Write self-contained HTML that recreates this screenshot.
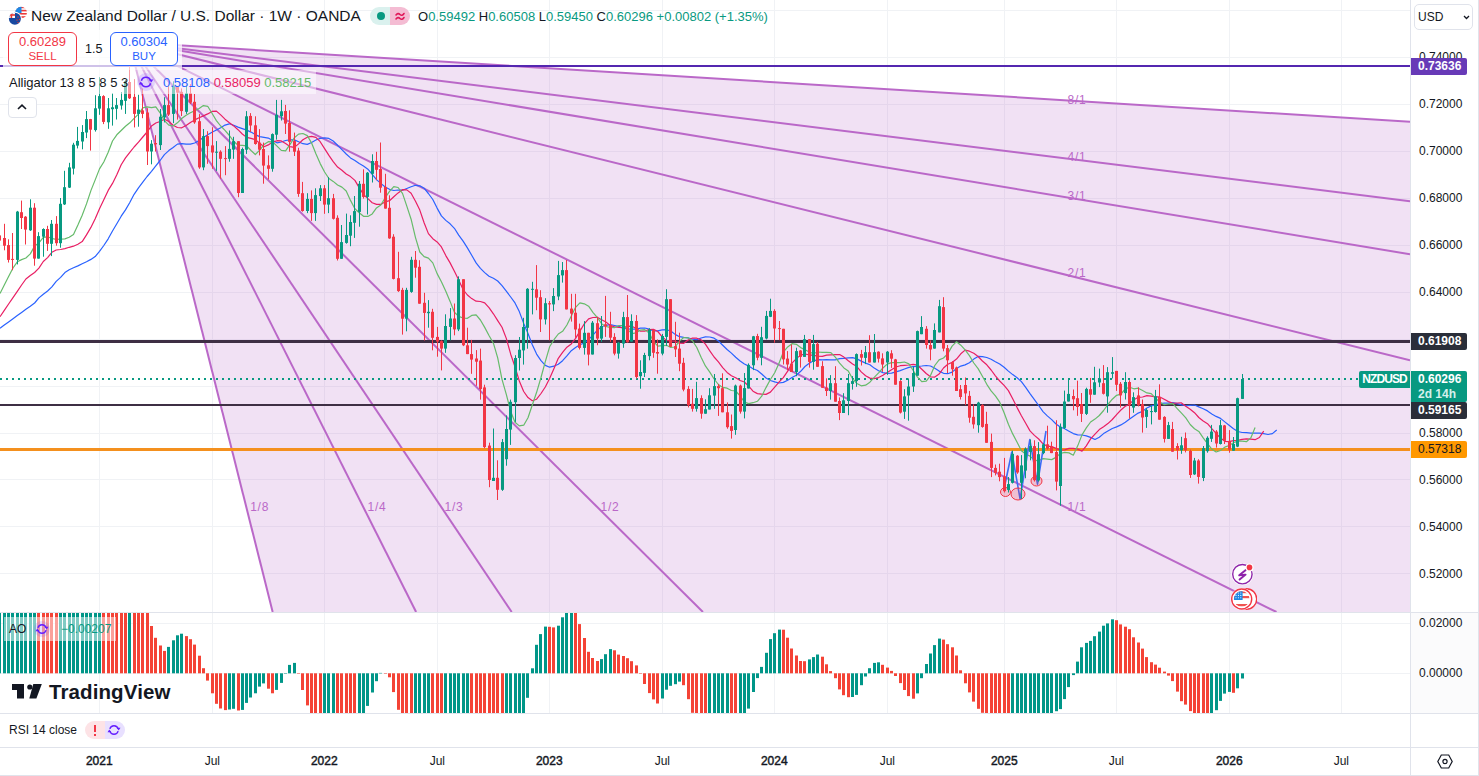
<!DOCTYPE html>
<html><head><meta charset="utf-8">
<style>
*{box-sizing:border-box;margin:0;padding:0}
html,body{width:1479px;height:776px;overflow:hidden;background:#fff;font-family:"Liberation Sans",sans-serif;color:#131722}
#root{position:relative;width:1479px;height:776px;overflow:hidden;background:#fff}
.abs{position:absolute}
.pl{position:absolute;left:1419px;font-size:12px;color:#131722;line-height:14px;height:14px;white-space:nowrap}
.tag{position:absolute;left:1411px;width:56px;height:17px;font-size:12px;font-weight:bold;color:#fff;line-height:17px;padding-left:7px;border-radius:0 2px 2px 0;white-space:nowrap}
.tl{position:absolute;top:754px;font-size:12px;line-height:14px;color:#131722;white-space:nowrap;width:60px;text-align:center}
.tl.b{font-weight:normal;-webkit-text-stroke:0.45px #131722}
.ovl{position:absolute;background:rgba(255,255,255,0.5)}
</style></head><body><div id="root">
<svg width="1410" height="612" viewBox="0 0 1410 612" style="position:absolute;left:0;top:0">
<rect width="100%" height="100%" fill="#fff"/>
<line x1="0" x2="1410" y1="10.5" y2="10.5" stroke="#f0f2f5" stroke-width="1"/>
<line x1="0" x2="1410" y1="57.5" y2="57.5" stroke="#f0f2f5" stroke-width="1"/>
<line x1="0" x2="1410" y1="104.5" y2="104.5" stroke="#f0f2f5" stroke-width="1"/>
<line x1="0" x2="1410" y1="151.5" y2="151.5" stroke="#f0f2f5" stroke-width="1"/>
<line x1="0" x2="1410" y1="198.5" y2="198.5" stroke="#f0f2f5" stroke-width="1"/>
<line x1="0" x2="1410" y1="245.5" y2="245.5" stroke="#f0f2f5" stroke-width="1"/>
<line x1="0" x2="1410" y1="292.5" y2="292.5" stroke="#f0f2f5" stroke-width="1"/>
<line x1="0" x2="1410" y1="339.5" y2="339.5" stroke="#f0f2f5" stroke-width="1"/>
<line x1="0" x2="1410" y1="386.5" y2="386.5" stroke="#f0f2f5" stroke-width="1"/>
<line x1="0" x2="1410" y1="433.5" y2="433.5" stroke="#f0f2f5" stroke-width="1"/>
<line x1="0" x2="1410" y1="479.5" y2="479.5" stroke="#f0f2f5" stroke-width="1"/>
<line x1="0" x2="1410" y1="526.5" y2="526.5" stroke="#f0f2f5" stroke-width="1"/>
<line x1="0" x2="1410" y1="573.5" y2="573.5" stroke="#f0f2f5" stroke-width="1"/>
<line y1="0" y2="612" x1="99.5" x2="99.5" stroke="#f0f2f5" stroke-width="1"/>
<line y1="0" y2="612" x1="212.5" x2="212.5" stroke="#f0f2f5" stroke-width="1"/>
<line y1="0" y2="612" x1="324.5" x2="324.5" stroke="#f0f2f5" stroke-width="1"/>
<line y1="0" y2="612" x1="437.5" x2="437.5" stroke="#f0f2f5" stroke-width="1"/>
<line y1="0" y2="612" x1="549.5" x2="549.5" stroke="#f0f2f5" stroke-width="1"/>
<line y1="0" y2="612" x1="662.5" x2="662.5" stroke="#f0f2f5" stroke-width="1"/>
<line y1="0" y2="612" x1="774.5" x2="774.5" stroke="#f0f2f5" stroke-width="1"/>
<line y1="0" y2="612" x1="887.5" x2="887.5" stroke="#f0f2f5" stroke-width="1"/>
<line y1="0" y2="612" x1="1004.5" x2="1004.5" stroke="#f0f2f5" stroke-width="1"/>
<line y1="0" y2="612" x1="1116.5" x2="1116.5" stroke="#f0f2f5" stroke-width="1"/>
<line y1="0" y2="612" x1="1229.5" x2="1229.5" stroke="#f0f2f5" stroke-width="1"/>
<line y1="0" y2="612" x1="1341.5" x2="1341.5" stroke="#f0f2f5" stroke-width="1"/>
<polygon points="129.35,42.2 1410,121.712356875 1410,612 272.7464163478961,612" fill="rgba(186,104,200,0.2)"/>
<line x1="129.35" y1="42.2" x2="1410.0" y2="121.7" stroke="#ba68c8" stroke-width="2"/>
<line x1="129.35" y1="42.2" x2="1410.0" y2="201.2" stroke="#ba68c8" stroke-width="2"/>
<line x1="129.35" y1="42.2" x2="1410.0" y2="254.2" stroke="#ba68c8" stroke-width="2"/>
<line x1="129.35" y1="42.2" x2="1410.0" y2="360.2" stroke="#ba68c8" stroke-width="2"/>
<line x1="129.35" y1="42.2" x2="1276.5" y2="612.0" stroke="#ba68c8" stroke-width="2"/>
<line x1="129.35" y1="42.2" x2="702.9" y2="612.0" stroke="#ba68c8" stroke-width="2"/>
<line x1="129.35" y1="42.2" x2="511.7" y2="612.0" stroke="#ba68c8" stroke-width="2"/>
<line x1="129.35" y1="42.2" x2="416.1" y2="612.0" stroke="#ba68c8" stroke-width="2"/>
<line x1="129.35" y1="42.2" x2="272.7" y2="612.0" stroke="#ba68c8" stroke-width="2"/>
<text x="1077" y="103.5" fill="#ba68c8" font-size="12" letter-spacing="0.8" text-anchor="middle" font-family="Liberation Sans">8/1</text>
<text x="1077" y="160.5" fill="#ba68c8" font-size="12" letter-spacing="0.8" text-anchor="middle" font-family="Liberation Sans">4/1</text>
<text x="1077" y="199.5" fill="#ba68c8" font-size="12" letter-spacing="0.8" text-anchor="middle" font-family="Liberation Sans">3/1</text>
<text x="1077" y="276.5" fill="#ba68c8" font-size="12" letter-spacing="0.8" text-anchor="middle" font-family="Liberation Sans">2/1</text>
<text x="1077" y="510.5" fill="#ba68c8" font-size="12" letter-spacing="0.8" text-anchor="middle" font-family="Liberation Sans">1/1</text>
<text x="610" y="510.5" fill="#ba68c8" font-size="12" letter-spacing="0.8" text-anchor="middle" font-family="Liberation Sans">1/2</text>
<text x="454" y="510.5" fill="#ba68c8" font-size="12" letter-spacing="0.8" text-anchor="middle" font-family="Liberation Sans">1/3</text>
<text x="377" y="510.5" fill="#ba68c8" font-size="12" letter-spacing="0.8" text-anchor="middle" font-family="Liberation Sans">1/4</text>
<text x="259.7" y="510.5" fill="#ba68c8" font-size="12" letter-spacing="0.8" text-anchor="middle" font-family="Liberation Sans">1/8</text>
<line x1="0" x2="1410" y1="66" y2="66" stroke="#5427b0" stroke-width="2"/>
<rect x="0" width="1410" y="340" height="3" fill="#3e2f44"/>
<rect x="0" width="1410" y="404" height="2" fill="#3e2f44"/>
<rect x="0" width="1410" y="448" height="3" fill="#f4901e"/>
<line x1="0" x2="1360" y1="379" y2="379" stroke="#089981" stroke-width="2" stroke-dasharray="2 4"/>
<polyline points="-0.0,328.3 4.3,325.1 8.6,322.0 13.0,318.8 17.3,315.6 21.6,312.5 25.9,309.3 30.3,306.2 34.6,303.0 38.9,297.9 43.3,294.3 47.6,291.0 51.9,286.9 56.2,281.4 60.6,277.4 64.9,272.6 69.2,269.7 73.5,267.8 77.9,265.9 82.2,263.8 86.5,261.8 90.9,259.4 95.2,256.6 99.5,251.3 103.8,245.5 108.2,238.8 112.5,231.0 116.8,223.8 121.2,216.2 125.5,209.9 129.8,202.5 134.1,194.3 138.5,187.8 142.8,182.1 147.1,176.5 151.5,171.3 155.8,165.8 160.1,160.5 164.4,154.6 168.8,150.6 173.1,147.5 177.4,144.1 181.7,143.6 186.1,144.2 190.4,144.2 194.7,143.0 199.1,140.5 203.4,137.4 207.7,134.7 212.0,132.3 216.4,130.0 220.7,127.7 225.0,125.1 229.4,123.8 233.7,125.2 238.0,127.1 242.3,128.6 246.7,130.1 251.0,132.1 255.3,134.6 259.7,136.6 264.0,137.3 268.3,138.1 272.6,140.5 277.0,142.8 281.3,142.0 285.6,140.5 289.9,139.8 294.3,139.9 298.6,141.7 302.9,143.7 307.3,144.4 311.6,142.5 315.9,140.0 320.2,138.4 324.6,137.9 328.9,138.4 333.2,141.0 337.6,145.3 341.9,149.7 346.2,154.0 350.5,157.9 354.9,160.6 359.2,163.6 363.5,166.0 367.9,169.2 372.2,174.4 376.5,179.6 380.8,183.4 385.2,187.0 389.5,189.3 393.8,190.5 398.1,190.0 402.5,190.2 406.8,188.5 411.1,186.8 415.5,185.3 419.8,185.8 424.1,188.2 428.4,193.5 432.8,199.5 437.1,208.1 441.4,215.9 445.8,220.4 450.1,223.8 454.4,228.3 458.7,235.1 463.1,241.1 467.4,247.9 471.7,255.2 476.1,262.9 480.4,268.3 484.7,272.6 489.0,276.2 493.4,278.3 497.7,281.0 502.0,285.6 506.3,291.1 510.7,297.0 515.0,302.9 519.3,311.6 523.7,323.4 528.0,333.5 532.3,344.8 536.6,354.1 541.0,360.7 545.3,365.4 549.6,367.2 554.0,366.2 558.3,364.3 562.6,360.7 566.9,355.9 571.3,350.7 575.6,347.6 579.9,344.8 584.3,343.0 588.6,339.6 592.9,335.1 597.2,330.3 601.6,326.8 605.9,325.3 610.2,324.6 614.5,325.5 618.9,326.4 623.2,328.2 627.5,328.9 631.9,329.1 636.2,329.1 640.5,328.1 644.8,328.0 649.2,329.2 653.5,330.9 657.8,330.8 662.2,329.9 666.5,329.7 670.8,331.0 675.1,334.4 679.5,336.7 683.8,337.3 688.1,337.8 692.5,339.2 696.8,339.6 701.1,338.0 705.4,336.8 709.8,337.0 714.1,338.2 718.4,341.0 722.7,345.2 727.1,349.5 731.4,353.1 735.7,357.3 740.1,361.0 744.4,364.0 748.7,366.1 753.0,368.7 757.4,370.5 761.7,374.0 766.0,378.0 770.4,380.5 774.7,381.9 779.0,383.0 783.3,382.4 787.7,380.2 792.0,377.6 796.3,375.2 800.7,371.3 805.0,366.5 809.3,363.3 813.6,360.8 818.0,359.7 822.3,359.8 826.6,359.7 830.9,359.9 835.3,359.8 839.6,358.7 843.9,358.3 848.3,357.8 852.6,357.6 856.9,358.9 861.2,361.1 865.6,363.1 869.9,364.7 874.2,368.1 878.6,370.8 882.9,372.6 887.2,373.4 891.5,373.1 895.9,371.9 900.2,370.6 904.5,369.0 908.9,367.4 913.2,366.6 917.5,366.3 921.8,366.0 926.2,365.5 930.5,366.0 934.8,368.3 939.1,371.1 943.5,373.3 947.8,373.7 952.1,372.1 956.5,368.5 960.8,366.1 965.1,364.9 969.4,362.7 973.8,359.1 978.1,356.4 982.4,356.6 986.8,357.5 991.1,359.2 995.4,361.7 999.7,364.0 1004.1,367.3 1008.4,371.1 1012.7,374.6 1017.1,377.8 1021.4,381.6 1025.7,387.3 1030.0,393.6 1034.4,399.7 1038.7,405.5 1043.0,411.6 1047.3,415.9 1051.7,419.6 1056.0,424.0 1060.3,427.0 1064.7,428.8 1069.0,431.2 1073.3,433.6 1077.6,434.8 1082.0,435.0 1086.3,435.9 1090.6,437.4 1095.0,439.5 1099.3,437.2 1103.6,433.6 1107.9,431.0 1112.3,428.5 1116.6,426.9 1120.9,424.9 1125.3,422.3 1129.6,419.1 1133.9,415.9 1138.2,413.1 1142.6,411.3 1146.9,408.0 1151.2,405.9 1155.5,405.0 1159.9,403.6 1164.2,403.2 1168.5,403.2 1172.9,402.7 1177.2,403.7 1181.5,404.8 1185.8,405.6 1190.2,405.3 1194.5,405.0 1198.8,406.9 1203.2,408.7 1207.5,410.9 1211.8,414.0 1216.1,416.4 1220.5,418.4 1224.8,421.9 1229.1,425.3 1233.5,428.8 1237.8,431.5 1242.1,432.5 1246.4,432.6 1250.8,433.1 1255.1,433.0 1259.4,433.1 1263.7,433.7 1268.1,434.5 1272.4,433.6 1276.7,430.0" fill="none" stroke="#2962ff" stroke-width="1.2" stroke-linejoin="round"/>
<polyline points="-0.0,316.7 4.3,310.4 8.6,304.0 13.0,297.7 17.3,291.3 21.6,285.0 25.9,279.0 30.3,275.5 34.6,272.5 38.9,268.1 43.3,261.5 47.6,257.6 51.9,252.3 56.2,250.0 60.6,249.5 64.9,248.6 69.2,247.3 73.5,246.2 77.9,244.2 82.2,241.6 86.5,234.9 90.9,227.4 95.2,218.8 99.5,208.7 103.8,199.8 108.2,190.4 112.5,183.4 116.8,174.7 121.2,164.8 125.5,157.9 129.8,152.4 134.1,147.0 138.5,142.2 142.8,137.0 147.1,132.0 151.5,125.9 155.8,123.0 160.1,121.5 164.4,119.2 168.8,121.4 173.1,125.2 177.4,127.5 181.7,127.8 186.1,125.5 190.4,122.5 194.7,119.9 199.1,117.8 203.4,115.9 207.7,113.9 212.0,111.4 216.4,111.1 220.7,114.9 225.0,119.2 229.4,122.8 233.7,125.9 238.0,129.7 242.3,134.0 246.7,137.4 251.0,138.4 255.3,139.6 259.7,143.3 264.0,146.7 268.3,144.9 272.6,142.1 277.0,140.7 281.3,140.9 285.6,143.6 289.9,146.6 294.3,147.4 298.6,143.9 302.9,139.7 307.3,137.2 311.6,136.4 315.9,137.4 320.2,141.7 324.6,148.6 328.9,155.4 333.2,161.7 337.6,167.1 341.9,170.3 346.2,174.0 350.5,176.6 354.9,180.4 359.2,187.6 363.5,194.4 367.9,198.6 372.2,202.7 376.5,204.4 380.8,204.4 385.2,201.8 389.5,200.7 393.8,196.7 398.1,192.9 402.5,189.7 406.8,189.9 411.1,193.3 415.5,201.2 419.8,210.1 424.1,222.7 428.4,233.6 432.8,238.7 437.1,241.9 441.4,246.9 445.8,255.6 450.1,262.9 454.4,271.2 458.7,280.1 463.1,289.5 467.4,295.0 471.7,298.6 476.1,301.2 480.4,301.5 484.7,302.9 489.0,307.7 493.4,313.8 497.7,320.6 502.0,327.3 506.3,338.4 510.7,354.2 515.0,366.8 519.3,381.0 523.7,391.5 528.0,397.6 532.3,400.7 536.6,399.2 541.0,393.5 545.3,387.0 549.6,378.4 554.0,368.4 558.3,358.3 562.6,352.4 566.9,347.2 571.3,343.9 575.6,338.4 579.9,331.1 584.3,323.8 588.6,318.9 592.9,317.5 597.2,317.3 601.6,319.7 605.9,322.0 610.2,325.4 614.5,326.9 618.9,327.4 623.2,327.6 627.5,326.2 631.9,326.3 636.2,328.5 640.5,331.2 644.8,331.1 649.2,329.5 653.5,329.3 657.8,331.5 662.2,336.9 666.5,340.4 670.8,340.9 675.1,341.2 679.5,343.1 683.8,343.3 688.1,340.1 692.5,338.0 696.8,338.2 701.1,339.9 705.4,344.2 709.8,350.8 714.1,357.0 718.4,361.9 722.7,367.6 727.1,372.4 731.4,375.7 735.7,377.7 740.1,380.5 744.4,382.0 748.7,386.2 753.0,391.2 757.4,393.6 761.7,394.2 766.0,394.4 770.4,392.1 774.7,387.2 779.0,382.2 783.3,377.7 787.7,371.1 792.0,363.2 796.3,358.6 800.7,355.1 805.0,354.0 809.3,354.8 813.6,355.3 818.0,356.1 822.3,356.4 826.6,355.1 830.9,354.9 835.3,354.6 839.6,354.6 843.9,357.1 848.3,360.8 852.6,364.1 856.9,366.6 861.2,371.9 865.6,375.8 869.9,378.1 874.2,378.7 878.6,377.6 882.9,375.2 887.2,372.6 891.5,369.7 895.9,367.0 900.2,365.7 904.5,365.3 908.9,365.0 913.2,364.3 917.5,365.2 921.8,369.2 926.2,373.5 930.5,376.8 934.8,377.1 939.1,374.1 943.5,368.0 947.8,364.2 952.1,362.4 956.5,359.1 960.8,353.8 965.1,350.1 969.4,351.2 973.8,353.3 978.1,356.5 982.4,361.0 986.8,364.8 991.1,370.0 995.4,375.8 999.7,381.0 1004.1,385.4 1008.4,390.6 1012.7,398.7 1017.1,407.6 1021.4,415.7 1025.7,423.2 1030.0,430.9 1034.4,435.4 1038.7,439.0 1043.0,443.8 1047.3,446.2 1051.7,446.6 1056.0,448.4 1060.3,450.1 1064.7,449.9 1069.0,448.4 1073.3,448.3 1077.6,449.1 1082.0,451.1 1086.3,445.9 1090.6,438.9 1095.0,434.1 1099.3,429.6 1103.6,426.8 1107.9,423.6 1112.3,419.5 1116.6,414.6 1120.9,410.0 1125.3,406.3 1129.6,404.2 1133.9,399.7 1138.2,397.3 1142.6,397.0 1146.9,395.6 1151.2,396.1 1155.5,396.9 1159.9,396.9 1164.2,399.3 1168.5,401.6 1172.9,403.3 1177.2,403.0 1181.5,402.9 1185.8,406.2 1190.2,409.2 1194.5,412.7 1198.8,417.5 1203.2,421.0 1207.5,423.7 1211.8,428.7 1216.1,433.4 1220.5,438.1 1224.8,441.3 1229.1,441.7 1233.5,440.7 1237.8,440.4 1242.1,439.4 1246.4,438.8 1250.8,439.1 1255.1,439.7 1259.4,437.5 1263.7,431.2" fill="none" stroke="#e91e63" stroke-width="1.2" stroke-linejoin="round"/>
<polyline points="-0.0,293.5 4.3,285.0 8.6,276.5 13.0,268.0 17.3,261.8 21.6,259.6 25.9,258.0 30.3,253.9 34.6,246.1 38.9,243.0 43.3,237.4 47.6,236.8 51.9,238.5 56.2,239.3 60.6,239.1 64.9,238.9 69.2,237.3 73.5,234.4 77.9,225.1 82.2,215.2 86.5,203.9 90.9,190.6 95.2,179.9 99.5,168.9 103.8,162.0 108.2,152.3 112.5,141.0 116.8,134.8 121.2,130.5 125.5,126.3 129.8,122.8 134.1,118.4 138.5,114.1 142.8,107.8 147.1,106.9 151.5,107.7 155.8,106.8 160.1,112.8 164.4,120.6 168.8,125.2 173.1,126.0 177.4,122.8 181.7,118.5 186.1,115.2 190.4,112.8 194.7,110.7 199.1,108.5 203.4,105.6 207.7,106.3 212.0,113.3 216.4,120.6 220.7,126.0 225.0,130.4 229.4,135.5 233.7,141.3 238.0,145.2 242.3,145.4 246.7,145.8 251.0,150.5 255.3,154.5 259.7,150.1 264.0,144.6 268.3,141.7 272.6,141.8 277.0,146.1 281.3,150.4 285.6,150.8 289.9,144.6 294.3,137.7 298.6,134.1 302.9,133.5 307.3,135.6 311.6,143.0 315.9,153.7 320.2,163.6 324.6,172.0 328.9,178.5 333.2,181.4 337.6,185.0 341.9,187.1 346.2,191.0 350.5,200.4 354.9,208.7 359.2,212.7 363.5,216.3 367.9,216.4 372.2,213.9 376.5,207.9 380.8,205.0 385.2,197.7 389.5,191.3 393.8,186.6 398.1,187.5 402.5,193.4 406.8,206.1 411.1,219.2 415.5,237.6 419.8,252.0 424.1,256.6 428.4,258.1 432.8,262.9 437.1,273.6 441.4,281.7 445.8,291.3 450.1,301.4 454.4,312.2 458.7,316.4 463.1,318.0 467.4,318.3 471.7,315.4 476.1,314.8 480.4,320.0 484.7,327.4 489.0,335.5 493.4,343.2 497.7,357.9 502.0,379.3 506.3,394.4 510.7,411.5 515.0,422.2 519.3,425.9 523.7,425.2 528.0,417.8 532.3,405.0 536.6,392.3 541.0,377.5 545.3,361.6 549.6,346.8 554.0,339.7 558.3,334.0 562.6,331.3 566.9,325.0 571.3,316.1 575.6,307.3 579.9,302.8 584.3,303.8 588.6,306.2 592.9,312.3 597.2,317.4 601.6,323.7 605.9,326.5 610.2,327.4 614.5,327.7 618.9,325.5 623.2,325.7 627.5,329.4 631.9,333.6 636.2,332.8 640.5,330.0 644.8,329.6 649.2,333.1 653.5,341.4 657.8,346.1 662.2,345.7 666.5,345.3 670.8,347.5 675.1,347.0 679.5,341.1 683.8,337.5 688.1,337.9 692.5,340.7 696.8,347.5 701.1,357.3 705.4,365.9 709.8,372.1 714.1,379.0 718.4,384.5 722.7,387.4 727.1,388.2 731.4,390.5 735.7,391.0 740.1,395.9 744.4,402.0 748.7,403.6 753.0,402.7 757.4,401.3 761.7,396.2 766.0,387.6 770.4,379.5 774.7,372.8 779.0,363.3 783.3,352.2 787.7,346.9 792.0,343.7 796.3,344.3 800.7,347.6 805.0,349.7 809.3,352.1 813.6,353.5 818.0,352.0 822.3,352.3 826.6,352.3 830.9,352.7 835.3,357.1 839.6,363.1 843.9,367.9 848.3,371.1 852.6,378.7 856.9,383.5 861.2,385.8 865.6,385.2 869.9,382.2 874.2,377.3 878.6,372.8 882.9,368.0 887.2,364.1 891.5,362.6 895.9,362.6 900.2,362.7 904.5,362.0 908.9,363.9 913.2,370.5 917.5,377.2 921.8,381.7 926.2,381.2 930.5,375.6 934.8,365.5 939.1,359.9 943.5,358.0 947.8,353.6 952.1,346.1 956.5,341.7 960.8,345.2 965.1,349.8 969.4,355.6 973.8,363.0 978.1,368.6 982.4,376.3 986.8,384.3 991.1,390.9 995.4,395.9 999.7,402.2 1004.1,412.8 1008.4,424.2 1012.7,433.9 1017.1,442.2 1021.4,450.7 1025.7,454.0 1030.0,456.1 1034.4,460.2 1038.7,460.8 1043.0,458.6 1047.3,459.1 1051.7,459.6 1056.0,457.4 1060.3,453.5 1064.7,452.3 1069.0,452.9 1073.3,455.2 1077.6,446.1 1082.0,434.9 1086.3,427.9 1090.6,422.0 1095.0,419.1 1099.3,415.5 1103.6,410.5 1107.9,404.5 1112.3,399.2 1116.6,395.3 1120.9,394.2 1125.3,388.9 1129.6,387.3 1133.9,388.8 1138.2,388.2 1142.6,390.5 1146.9,392.9 1151.2,393.7 1155.5,398.2 1159.9,402.1 1164.2,404.7 1168.5,404.0 1172.9,403.6 1177.2,408.7 1181.5,413.1 1185.8,417.8 1190.2,424.5 1194.5,428.7 1198.8,431.4 1203.2,437.9 1207.5,443.6 1211.8,449.2 1216.1,452.0 1220.5,450.5 1224.8,447.1 1229.1,445.5 1233.5,442.8 1237.8,441.1 1242.1,441.2 1246.4,441.7 1250.8,437.9 1255.1,427.6" fill="none" stroke="#66bb6a" stroke-width="1.2" stroke-linejoin="round"/>
<polyline points="1003.8,490 1011.8,452 1020.1,498.9 1029.8,439.6 1037.5,484.1 1046,431" fill="none" stroke="#3d6cf5" stroke-width="1.6" stroke-linejoin="round"/>
<ellipse cx="1005.5" cy="492" rx="5" ry="4.5" fill="rgba(242,54,69,0.2)" stroke="#f23645" stroke-width="1"/>
<ellipse cx="1018" cy="494" rx="7" ry="6" fill="rgba(242,54,69,0.2)" stroke="#f23645" stroke-width="1"/>
<ellipse cx="1036.5" cy="481" rx="5.5" ry="5" fill="rgba(242,54,69,0.2)" stroke="#f23645" stroke-width="1"/>
<rect x="-1" y="218.7" width="1" height="22.3" fill="#f23645"/>
<rect x="-2" y="235.4" width="3" height="5.2" fill="#f23645"/>
<rect x="4" y="223.8" width="1" height="26.5" fill="#f23645"/>
<rect x="3" y="238.0" width="3" height="7.7" fill="#f23645"/>
<rect x="8" y="239.3" width="1" height="23.2" fill="#f23645"/>
<rect x="7" y="245.1" width="3" height="14.8" fill="#f23645"/>
<rect x="12" y="233.0" width="1" height="37.2" fill="#f23645"/>
<rect x="11" y="258.9" width="3" height="1.0" fill="#f23645"/>
<rect x="17" y="210.9" width="1" height="53.5" fill="#089981"/>
<rect x="16" y="211.6" width="3" height="48.3" fill="#089981"/>
<rect x="21" y="200.6" width="1" height="28.4" fill="#f23645"/>
<rect x="20" y="212.2" width="3" height="5.8" fill="#f23645"/>
<rect x="25" y="216.1" width="1" height="28.4" fill="#f23645"/>
<rect x="24" y="216.7" width="3" height="12.9" fill="#f23645"/>
<rect x="30" y="199.3" width="1" height="31.6" fill="#089981"/>
<rect x="29" y="207.7" width="3" height="22.6" fill="#089981"/>
<rect x="34" y="203.2" width="1" height="62.5" fill="#f23645"/>
<rect x="33" y="207.7" width="3" height="50.9" fill="#f23645"/>
<rect x="38" y="232.2" width="1" height="26.4" fill="#089981"/>
<rect x="37" y="236.1" width="3" height="22.5" fill="#089981"/>
<rect x="43" y="228.3" width="1" height="28.4" fill="#089981"/>
<rect x="42" y="229.0" width="3" height="7.7" fill="#089981"/>
<rect x="47" y="225.8" width="1" height="25.1" fill="#f23645"/>
<rect x="46" y="229.0" width="3" height="14.8" fill="#f23645"/>
<rect x="51" y="220.0" width="1" height="36.1" fill="#089981"/>
<rect x="50" y="223.8" width="3" height="20.0" fill="#089981"/>
<rect x="56" y="216.1" width="1" height="29.6" fill="#f23645"/>
<rect x="55" y="223.8" width="3" height="19.4" fill="#f23645"/>
<rect x="60" y="198.0" width="1" height="49.7" fill="#089981"/>
<rect x="59" y="203.8" width="3" height="39.4" fill="#089981"/>
<rect x="64" y="170.8" width="1" height="34.2" fill="#089981"/>
<rect x="63" y="187.2" width="3" height="17.2" fill="#089981"/>
<rect x="69" y="162.8" width="1" height="25.2" fill="#089981"/>
<rect x="68" y="167.4" width="3" height="20.2" fill="#089981"/>
<rect x="73" y="142.8" width="1" height="31.7" fill="#089981"/>
<rect x="72" y="144.7" width="3" height="23.9" fill="#089981"/>
<rect x="77" y="126.9" width="1" height="21.5" fill="#089981"/>
<rect x="76" y="140.9" width="3" height="4.7" fill="#089981"/>
<rect x="82" y="125.1" width="1" height="24.2" fill="#089981"/>
<rect x="81" y="132.0" width="3" height="9.5" fill="#089981"/>
<rect x="86" y="111.0" width="1" height="27.1" fill="#089981"/>
<rect x="85" y="119.1" width="3" height="13.4" fill="#089981"/>
<rect x="90" y="118.9" width="1" height="31.7" fill="#f23645"/>
<rect x="89" y="119.1" width="3" height="10.6" fill="#f23645"/>
<rect x="95" y="95.2" width="1" height="36.4" fill="#089981"/>
<rect x="94" y="108.3" width="3" height="21.8" fill="#089981"/>
<rect x="99" y="77.1" width="1" height="37.7" fill="#089981"/>
<rect x="98" y="96.1" width="3" height="12.5" fill="#089981"/>
<rect x="103" y="95.2" width="1" height="28.9" fill="#f23645"/>
<rect x="102" y="96.1" width="3" height="25.8" fill="#f23645"/>
<rect x="108" y="98.0" width="1" height="30.8" fill="#089981"/>
<rect x="107" y="108.3" width="3" height="14.0" fill="#089981"/>
<rect x="112" y="93.3" width="1" height="32.3" fill="#089981"/>
<rect x="111" y="107.3" width="3" height="1.9" fill="#089981"/>
<rect x="116" y="98.0" width="1" height="21.5" fill="#089981"/>
<rect x="115" y="105.1" width="3" height="3.7" fill="#089981"/>
<rect x="121" y="92.0" width="1" height="17.6" fill="#089981"/>
<rect x="120" y="99.9" width="3" height="5.6" fill="#089981"/>
<rect x="125" y="80.0" width="1" height="33.9" fill="#089981"/>
<rect x="124" y="81.2" width="3" height="19.6" fill="#089981"/>
<rect x="129" y="66.4" width="1" height="32.6" fill="#f23645"/>
<rect x="128" y="82.0" width="3" height="16.3" fill="#f23645"/>
<rect x="134" y="79.1" width="1" height="48.3" fill="#f23645"/>
<rect x="133" y="96.9" width="3" height="17.0" fill="#f23645"/>
<rect x="138" y="94.8" width="1" height="31.9" fill="#089981"/>
<rect x="137" y="109.6" width="3" height="4.3" fill="#089981"/>
<rect x="142" y="88.4" width="1" height="29.8" fill="#f23645"/>
<rect x="141" y="110.4" width="3" height="3.5" fill="#f23645"/>
<rect x="147" y="108.2" width="1" height="56.8" fill="#f23645"/>
<rect x="146" y="112.5" width="3" height="39.0" fill="#f23645"/>
<rect x="151" y="140.1" width="1" height="24.2" fill="#089981"/>
<rect x="150" y="143.7" width="3" height="7.8" fill="#089981"/>
<rect x="155" y="135.2" width="1" height="16.3" fill="#f23645"/>
<rect x="154" y="143.0" width="3" height="1.4" fill="#f23645"/>
<rect x="160" y="109.0" width="1" height="41.0" fill="#089981"/>
<rect x="159" y="116.7" width="3" height="28.4" fill="#089981"/>
<rect x="164" y="97.2" width="1" height="25.2" fill="#089981"/>
<rect x="163" y="105.1" width="3" height="12.3" fill="#089981"/>
<rect x="168" y="86.2" width="1" height="29.8" fill="#f23645"/>
<rect x="167" y="105.1" width="3" height="9.5" fill="#f23645"/>
<rect x="173" y="81.3" width="1" height="41.8" fill="#089981"/>
<rect x="172" y="86.2" width="3" height="27.7" fill="#089981"/>
<rect x="177" y="87.0" width="1" height="32.6" fill="#f23645"/>
<rect x="176" y="87.0" width="3" height="5.6" fill="#f23645"/>
<rect x="181" y="88.4" width="1" height="27.6" fill="#f23645"/>
<rect x="180" y="91.9" width="3" height="19.2" fill="#f23645"/>
<rect x="186" y="85.5" width="1" height="28.4" fill="#089981"/>
<rect x="185" y="93.3" width="3" height="18.5" fill="#089981"/>
<rect x="190" y="84.1" width="1" height="19.9" fill="#f23645"/>
<rect x="189" y="93.3" width="3" height="9.3" fill="#f23645"/>
<rect x="194" y="94.0" width="1" height="29.8" fill="#f23645"/>
<rect x="193" y="101.8" width="3" height="20.6" fill="#f23645"/>
<rect x="199" y="114.1" width="1" height="54.7" fill="#f23645"/>
<rect x="198" y="121.2" width="3" height="46.2" fill="#f23645"/>
<rect x="203" y="129.0" width="1" height="41.2" fill="#089981"/>
<rect x="202" y="136.1" width="3" height="31.3" fill="#089981"/>
<rect x="207" y="131.2" width="1" height="32.6" fill="#f23645"/>
<rect x="206" y="136.1" width="3" height="10.0" fill="#f23645"/>
<rect x="212" y="127.2" width="1" height="41.6" fill="#f23645"/>
<rect x="211" y="145.4" width="3" height="7.1" fill="#f23645"/>
<rect x="216" y="141.1" width="1" height="29.8" fill="#089981"/>
<rect x="215" y="151.7" width="3" height="1.0" fill="#089981"/>
<rect x="220" y="150.3" width="1" height="28.4" fill="#f23645"/>
<rect x="219" y="151.7" width="3" height="7.1" fill="#f23645"/>
<rect x="225" y="146.1" width="1" height="29.1" fill="#f23645"/>
<rect x="224" y="158.1" width="3" height="1.0" fill="#f23645"/>
<rect x="229" y="130.5" width="1" height="31.2" fill="#089981"/>
<rect x="228" y="148.9" width="3" height="9.9" fill="#089981"/>
<rect x="233" y="136.8" width="1" height="22.0" fill="#089981"/>
<rect x="232" y="141.1" width="3" height="8.5" fill="#089981"/>
<rect x="238" y="141.2" width="1" height="56.0" fill="#f23645"/>
<rect x="237" y="141.2" width="3" height="51.8" fill="#f23645"/>
<rect x="242" y="147.6" width="1" height="45.4" fill="#089981"/>
<rect x="241" y="149.0" width="3" height="44.0" fill="#089981"/>
<rect x="246" y="111.1" width="1" height="42.8" fill="#089981"/>
<rect x="245" y="116.3" width="3" height="33.4" fill="#089981"/>
<rect x="250" y="113.1" width="1" height="18.8" fill="#f23645"/>
<rect x="249" y="115.9" width="3" height="9.6" fill="#f23645"/>
<rect x="255" y="116.3" width="1" height="28.4" fill="#f23645"/>
<rect x="254" y="125.3" width="3" height="18.7" fill="#f23645"/>
<rect x="259" y="129.1" width="1" height="26.3" fill="#f23645"/>
<rect x="258" y="142.6" width="3" height="7.1" fill="#f23645"/>
<rect x="263" y="142.6" width="1" height="41.1" fill="#f23645"/>
<rect x="262" y="149.0" width="3" height="16.6" fill="#f23645"/>
<rect x="268" y="155.4" width="1" height="24.1" fill="#f23645"/>
<rect x="267" y="165.3" width="3" height="3.5" fill="#f23645"/>
<rect x="272" y="133.4" width="1" height="38.3" fill="#089981"/>
<rect x="271" y="134.1" width="3" height="34.7" fill="#089981"/>
<rect x="276" y="99.9" width="1" height="39.7" fill="#089981"/>
<rect x="275" y="114.8" width="3" height="19.9" fill="#089981"/>
<rect x="281" y="99.9" width="1" height="20.6" fill="#089981"/>
<rect x="280" y="111.3" width="3" height="4.9" fill="#089981"/>
<rect x="285" y="104.9" width="1" height="29.1" fill="#f23645"/>
<rect x="284" y="111.0" width="3" height="12.6" fill="#f23645"/>
<rect x="289" y="110.3" width="1" height="41.4" fill="#f23645"/>
<rect x="288" y="123.0" width="3" height="18.8" fill="#f23645"/>
<rect x="294" y="132.6" width="1" height="23.4" fill="#f23645"/>
<rect x="293" y="141.1" width="3" height="10.6" fill="#f23645"/>
<rect x="298" y="147.8" width="1" height="49.0" fill="#f23645"/>
<rect x="297" y="150.6" width="3" height="43.3" fill="#f23645"/>
<rect x="302" y="181.9" width="1" height="29.8" fill="#f23645"/>
<rect x="301" y="193.2" width="3" height="17.8" fill="#f23645"/>
<rect x="307" y="193.2" width="1" height="19.9" fill="#089981"/>
<rect x="306" y="198.9" width="3" height="12.1" fill="#089981"/>
<rect x="311" y="190.4" width="1" height="30.5" fill="#f23645"/>
<rect x="310" y="198.9" width="3" height="14.2" fill="#f23645"/>
<rect x="315" y="188.3" width="1" height="32.6" fill="#089981"/>
<rect x="314" y="195.1" width="3" height="18.0" fill="#089981"/>
<rect x="320" y="185.1" width="1" height="15.9" fill="#089981"/>
<rect x="319" y="188.3" width="3" height="7.8" fill="#089981"/>
<rect x="324" y="185.1" width="1" height="28.7" fill="#f23645"/>
<rect x="323" y="188.3" width="3" height="16.3" fill="#f23645"/>
<rect x="328" y="177.2" width="1" height="35.9" fill="#089981"/>
<rect x="327" y="198.2" width="3" height="6.4" fill="#089981"/>
<rect x="333" y="193.9" width="1" height="25.6" fill="#f23645"/>
<rect x="332" y="198.2" width="3" height="20.6" fill="#f23645"/>
<rect x="337" y="215.3" width="1" height="45.2" fill="#f23645"/>
<rect x="336" y="217.8" width="3" height="41.0" fill="#f23645"/>
<rect x="341" y="225.0" width="1" height="33.8" fill="#089981"/>
<rect x="340" y="242.1" width="3" height="16.7" fill="#089981"/>
<rect x="346" y="213.6" width="1" height="30.1" fill="#089981"/>
<rect x="345" y="235.0" width="3" height="7.9" fill="#089981"/>
<rect x="350" y="215.3" width="1" height="30.9" fill="#089981"/>
<rect x="349" y="222.0" width="3" height="13.7" fill="#089981"/>
<rect x="354" y="196.0" width="1" height="41.9" fill="#089981"/>
<rect x="353" y="211.1" width="3" height="11.7" fill="#089981"/>
<rect x="359" y="181.0" width="1" height="45.7" fill="#089981"/>
<rect x="358" y="183.8" width="3" height="28.1" fill="#089981"/>
<rect x="363" y="169.3" width="1" height="29.3" fill="#f23645"/>
<rect x="362" y="183.8" width="3" height="13.1" fill="#f23645"/>
<rect x="367" y="172.0" width="1" height="42.5" fill="#089981"/>
<rect x="366" y="172.7" width="3" height="24.2" fill="#089981"/>
<rect x="372" y="154.3" width="1" height="28.2" fill="#089981"/>
<rect x="371" y="161.0" width="3" height="12.8" fill="#089981"/>
<rect x="376" y="151.8" width="1" height="28.4" fill="#f23645"/>
<rect x="375" y="161.0" width="3" height="8.8" fill="#f23645"/>
<rect x="380" y="142.5" width="1" height="50.2" fill="#f23645"/>
<rect x="379" y="169.0" width="3" height="18.7" fill="#f23645"/>
<rect x="385" y="173.8" width="1" height="34.8" fill="#f23645"/>
<rect x="384" y="186.9" width="3" height="21.7" fill="#f23645"/>
<rect x="389" y="195.3" width="1" height="43.5" fill="#f23645"/>
<rect x="388" y="207.8" width="3" height="30.6" fill="#f23645"/>
<rect x="393" y="234.2" width="1" height="45.2" fill="#f23645"/>
<rect x="392" y="236.7" width="3" height="42.2" fill="#f23645"/>
<rect x="398" y="251.8" width="1" height="40.1" fill="#f23645"/>
<rect x="397" y="278.2" width="3" height="12.9" fill="#f23645"/>
<rect x="402" y="287.8" width="1" height="46.8" fill="#f23645"/>
<rect x="401" y="289.9" width="3" height="28.8" fill="#f23645"/>
<rect x="406" y="287.8" width="1" height="43.5" fill="#089981"/>
<rect x="405" y="289.9" width="3" height="28.8" fill="#089981"/>
<rect x="411" y="256.8" width="1" height="36.0" fill="#089981"/>
<rect x="410" y="259.8" width="3" height="32.1" fill="#089981"/>
<rect x="415" y="251.0" width="1" height="26.7" fill="#f23645"/>
<rect x="414" y="259.8" width="3" height="7.9" fill="#f23645"/>
<rect x="419" y="260.2" width="1" height="43.5" fill="#f23645"/>
<rect x="418" y="266.8" width="3" height="36.9" fill="#f23645"/>
<rect x="424" y="292.8" width="1" height="47.7" fill="#f23645"/>
<rect x="423" y="302.8" width="3" height="10.1" fill="#f23645"/>
<rect x="428" y="300.1" width="1" height="27.6" fill="#089981"/>
<rect x="427" y="311.8" width="3" height="1.4" fill="#089981"/>
<rect x="432" y="308.8" width="1" height="41.5" fill="#f23645"/>
<rect x="431" y="311.8" width="3" height="26.0" fill="#f23645"/>
<rect x="437" y="326.9" width="1" height="29.8" fill="#f23645"/>
<rect x="436" y="336.9" width="3" height="4.7" fill="#f23645"/>
<rect x="441" y="340.3" width="1" height="30.1" fill="#f23645"/>
<rect x="440" y="341.1" width="3" height="7.5" fill="#f23645"/>
<rect x="445" y="314.3" width="1" height="38.5" fill="#089981"/>
<rect x="444" y="326.0" width="3" height="22.6" fill="#089981"/>
<rect x="450" y="308.1" width="1" height="32.2" fill="#089981"/>
<rect x="449" y="318.5" width="3" height="8.4" fill="#089981"/>
<rect x="454" y="303.5" width="1" height="31.8" fill="#f23645"/>
<rect x="453" y="318.5" width="3" height="10.9" fill="#f23645"/>
<rect x="458" y="276.4" width="1" height="54.7" fill="#089981"/>
<rect x="457" y="279.2" width="3" height="50.2" fill="#089981"/>
<rect x="463" y="279.2" width="1" height="66.9" fill="#f23645"/>
<rect x="462" y="279.2" width="3" height="66.1" fill="#f23645"/>
<rect x="467" y="327.7" width="1" height="26.4" fill="#f23645"/>
<rect x="466" y="345.3" width="3" height="8.8" fill="#f23645"/>
<rect x="471" y="339.9" width="1" height="33.9" fill="#f23645"/>
<rect x="470" y="354.1" width="3" height="5.5" fill="#f23645"/>
<rect x="476" y="350.1" width="1" height="35.7" fill="#f23645"/>
<rect x="475" y="358.5" width="3" height="3.2" fill="#f23645"/>
<rect x="480" y="348.6" width="1" height="51.0" fill="#f23645"/>
<rect x="479" y="360.6" width="3" height="28.5" fill="#f23645"/>
<rect x="484" y="384.7" width="1" height="63.5" fill="#f23645"/>
<rect x="483" y="387.4" width="3" height="59.7" fill="#f23645"/>
<rect x="489" y="442.7" width="1" height="44.5" fill="#f23645"/>
<rect x="488" y="445.6" width="3" height="34.4" fill="#f23645"/>
<rect x="493" y="428.5" width="1" height="52.5" fill="#089981"/>
<rect x="492" y="477.8" width="3" height="3.2" fill="#089981"/>
<rect x="497" y="460.3" width="1" height="39.7" fill="#f23645"/>
<rect x="496" y="477.8" width="3" height="12.0" fill="#f23645"/>
<rect x="502" y="439.0" width="1" height="51.9" fill="#089981"/>
<rect x="501" y="442.1" width="3" height="47.7" fill="#089981"/>
<rect x="506" y="415.4" width="1" height="50.3" fill="#089981"/>
<rect x="505" y="429.0" width="3" height="30.2" fill="#089981"/>
<rect x="510" y="399.6" width="1" height="45.3" fill="#089981"/>
<rect x="509" y="401.8" width="3" height="27.8" fill="#089981"/>
<rect x="515" y="355.2" width="1" height="66.7" fill="#089981"/>
<rect x="514" y="358.0" width="3" height="44.2" fill="#089981"/>
<rect x="519" y="337.0" width="1" height="33.5" fill="#089981"/>
<rect x="518" y="349.7" width="3" height="8.3" fill="#089981"/>
<rect x="523" y="317.8" width="1" height="46.8" fill="#089981"/>
<rect x="522" y="327.0" width="3" height="23.4" fill="#089981"/>
<rect x="527" y="288.1" width="1" height="60.6" fill="#089981"/>
<rect x="526" y="288.8" width="3" height="39.0" fill="#089981"/>
<rect x="532" y="281.8" width="1" height="32.6" fill="#089981"/>
<rect x="531" y="288.8" width="3" height="1.0" fill="#089981"/>
<rect x="536" y="265.1" width="1" height="45.1" fill="#f23645"/>
<rect x="535" y="289.3" width="3" height="8.4" fill="#f23645"/>
<rect x="540" y="290.2" width="1" height="41.8" fill="#f23645"/>
<rect x="539" y="297.2" width="3" height="22.2" fill="#f23645"/>
<rect x="545" y="298.2" width="1" height="26.3" fill="#089981"/>
<rect x="544" y="303.2" width="3" height="16.2" fill="#089981"/>
<rect x="549" y="301.0" width="1" height="39.3" fill="#f23645"/>
<rect x="548" y="303.2" width="3" height="1.2" fill="#f23645"/>
<rect x="553" y="288.1" width="1" height="23.0" fill="#089981"/>
<rect x="552" y="296.0" width="3" height="8.4" fill="#089981"/>
<rect x="558" y="260.9" width="1" height="39.3" fill="#089981"/>
<rect x="557" y="275.1" width="3" height="21.4" fill="#089981"/>
<rect x="562" y="262.0" width="1" height="20.6" fill="#089981"/>
<rect x="561" y="270.1" width="3" height="5.3" fill="#089981"/>
<rect x="566" y="260.0" width="1" height="49.4" fill="#f23645"/>
<rect x="565" y="270.1" width="3" height="39.3" fill="#f23645"/>
<rect x="571" y="293.8" width="1" height="27.8" fill="#f23645"/>
<rect x="570" y="308.6" width="3" height="5.0" fill="#f23645"/>
<rect x="575" y="293.8" width="1" height="44.0" fill="#f23645"/>
<rect x="574" y="312.7" width="3" height="16.8" fill="#f23645"/>
<rect x="579" y="323.6" width="1" height="25.9" fill="#f23645"/>
<rect x="578" y="328.6" width="3" height="19.3" fill="#f23645"/>
<rect x="584" y="321.1" width="1" height="33.5" fill="#089981"/>
<rect x="583" y="332.8" width="3" height="15.1" fill="#089981"/>
<rect x="588" y="332.8" width="1" height="32.6" fill="#f23645"/>
<rect x="587" y="332.8" width="3" height="21.8" fill="#f23645"/>
<rect x="592" y="321.0" width="1" height="33.5" fill="#089981"/>
<rect x="591" y="322.7" width="3" height="31.8" fill="#089981"/>
<rect x="597" y="316.8" width="1" height="28.4" fill="#f23645"/>
<rect x="596" y="323.2" width="3" height="15.4" fill="#f23645"/>
<rect x="601" y="316.0" width="1" height="25.9" fill="#089981"/>
<rect x="600" y="326.0" width="3" height="12.6" fill="#089981"/>
<rect x="605" y="295.9" width="1" height="41.0" fill="#f23645"/>
<rect x="604" y="324.3" width="3" height="2.2" fill="#f23645"/>
<rect x="610" y="311.8" width="1" height="30.1" fill="#f23645"/>
<rect x="609" y="325.2" width="3" height="12.5" fill="#f23645"/>
<rect x="614" y="333.2" width="1" height="22.1" fill="#f23645"/>
<rect x="613" y="336.9" width="3" height="16.7" fill="#f23645"/>
<rect x="618" y="341.9" width="1" height="16.7" fill="#089981"/>
<rect x="617" y="342.7" width="3" height="10.9" fill="#089981"/>
<rect x="623" y="311.8" width="1" height="36.0" fill="#089981"/>
<rect x="622" y="317.1" width="3" height="26.5" fill="#089981"/>
<rect x="627" y="295.0" width="1" height="47.7" fill="#f23645"/>
<rect x="626" y="317.1" width="3" height="25.1" fill="#f23645"/>
<rect x="631" y="314.3" width="1" height="27.3" fill="#089981"/>
<rect x="630" y="321.0" width="3" height="20.6" fill="#089981"/>
<rect x="636" y="315.1" width="1" height="63.6" fill="#f23645"/>
<rect x="635" y="321.0" width="3" height="56.0" fill="#f23645"/>
<rect x="640" y="360.3" width="1" height="28.4" fill="#089981"/>
<rect x="639" y="372.0" width="3" height="4.2" fill="#089981"/>
<rect x="644" y="352.8" width="1" height="24.2" fill="#089981"/>
<rect x="643" y="355.0" width="3" height="17.9" fill="#089981"/>
<rect x="649" y="328.2" width="1" height="32.1" fill="#089981"/>
<rect x="648" y="329.4" width="3" height="26.7" fill="#089981"/>
<rect x="653" y="329.4" width="1" height="28.4" fill="#f23645"/>
<rect x="652" y="330.2" width="3" height="22.6" fill="#f23645"/>
<rect x="657" y="339.4" width="1" height="34.3" fill="#f23645"/>
<rect x="656" y="352.0" width="3" height="1.6" fill="#f23645"/>
<rect x="662" y="333.9" width="1" height="21.4" fill="#089981"/>
<rect x="661" y="336.0" width="3" height="17.6" fill="#089981"/>
<rect x="666" y="289.2" width="1" height="56.9" fill="#089981"/>
<rect x="665" y="299.2" width="3" height="37.7" fill="#089981"/>
<rect x="670" y="299.2" width="1" height="47.7" fill="#f23645"/>
<rect x="669" y="299.2" width="3" height="47.7" fill="#f23645"/>
<rect x="675" y="321.8" width="1" height="35.2" fill="#f23645"/>
<rect x="674" y="346.1" width="3" height="3.3" fill="#f23645"/>
<rect x="679" y="332.7" width="1" height="38.5" fill="#f23645"/>
<rect x="678" y="348.6" width="3" height="15.1" fill="#f23645"/>
<rect x="683" y="357.8" width="1" height="33.5" fill="#f23645"/>
<rect x="682" y="362.8" width="3" height="26.8" fill="#f23645"/>
<rect x="688" y="386.1" width="1" height="21.3" fill="#f23645"/>
<rect x="687" y="388.9" width="3" height="16.3" fill="#f23645"/>
<rect x="692" y="388.9" width="1" height="22.7" fill="#f23645"/>
<rect x="691" y="403.8" width="3" height="5.0" fill="#f23645"/>
<rect x="696" y="381.8" width="1" height="29.8" fill="#089981"/>
<rect x="695" y="398.1" width="3" height="10.7" fill="#089981"/>
<rect x="701" y="395.3" width="1" height="23.4" fill="#f23645"/>
<rect x="700" y="398.1" width="3" height="15.6" fill="#f23645"/>
<rect x="705" y="399.3" width="1" height="14.4" fill="#089981"/>
<rect x="704" y="409.2" width="3" height="4.5" fill="#089981"/>
<rect x="709" y="388.2" width="1" height="21.3" fill="#089981"/>
<rect x="708" y="395.3" width="3" height="14.2" fill="#089981"/>
<rect x="714" y="374.0" width="1" height="34.8" fill="#089981"/>
<rect x="713" y="386.1" width="3" height="9.5" fill="#089981"/>
<rect x="718" y="383.9" width="1" height="32.0" fill="#f23645"/>
<rect x="717" y="386.1" width="3" height="2.1" fill="#f23645"/>
<rect x="722" y="373.3" width="1" height="39.0" fill="#f23645"/>
<rect x="721" y="388.2" width="3" height="24.1" fill="#f23645"/>
<rect x="727" y="402.4" width="1" height="26.3" fill="#f23645"/>
<rect x="726" y="412.3" width="3" height="14.9" fill="#f23645"/>
<rect x="731" y="414.5" width="1" height="24.1" fill="#f23645"/>
<rect x="730" y="426.1" width="3" height="4.8" fill="#f23645"/>
<rect x="735" y="384.6" width="1" height="50.2" fill="#089981"/>
<rect x="734" y="385.6" width="3" height="44.4" fill="#089981"/>
<rect x="740" y="384.6" width="1" height="29.0" fill="#f23645"/>
<rect x="739" y="385.6" width="3" height="26.0" fill="#f23645"/>
<rect x="744" y="373.0" width="1" height="45.4" fill="#089981"/>
<rect x="743" y="388.1" width="3" height="23.5" fill="#089981"/>
<rect x="748" y="363.4" width="1" height="25.1" fill="#089981"/>
<rect x="747" y="364.9" width="3" height="23.6" fill="#089981"/>
<rect x="753" y="335.9" width="1" height="34.2" fill="#089981"/>
<rect x="752" y="336.3" width="3" height="29.0" fill="#089981"/>
<rect x="757" y="333.8" width="1" height="26.5" fill="#f23645"/>
<rect x="756" y="336.0" width="3" height="21.8" fill="#f23645"/>
<rect x="761" y="326.8" width="1" height="38.5" fill="#089981"/>
<rect x="760" y="337.2" width="3" height="20.6" fill="#089981"/>
<rect x="766" y="310.9" width="1" height="28.5" fill="#089981"/>
<rect x="765" y="315.9" width="3" height="22.6" fill="#089981"/>
<rect x="770" y="298.7" width="1" height="18.4" fill="#089981"/>
<rect x="769" y="310.9" width="3" height="5.9" fill="#089981"/>
<rect x="774" y="309.2" width="1" height="33.5" fill="#f23645"/>
<rect x="773" y="310.9" width="3" height="17.6" fill="#f23645"/>
<rect x="779" y="321.0" width="1" height="19.2" fill="#f23645"/>
<rect x="778" y="328.1" width="3" height="1.0" fill="#f23645"/>
<rect x="783" y="328.8" width="1" height="35.7" fill="#f23645"/>
<rect x="782" y="328.8" width="3" height="30.6" fill="#f23645"/>
<rect x="787" y="351.1" width="1" height="19.2" fill="#f23645"/>
<rect x="786" y="358.6" width="3" height="5.9" fill="#f23645"/>
<rect x="791" y="344.4" width="1" height="27.6" fill="#f23645"/>
<rect x="790" y="363.6" width="3" height="8.4" fill="#f23645"/>
<rect x="796" y="347.7" width="1" height="28.5" fill="#089981"/>
<rect x="795" y="351.1" width="3" height="20.9" fill="#089981"/>
<rect x="800" y="350.1" width="1" height="17.5" fill="#f23645"/>
<rect x="799" y="350.5" width="3" height="6.4" fill="#f23645"/>
<rect x="804" y="334.9" width="1" height="22.0" fill="#089981"/>
<rect x="803" y="339.2" width="3" height="17.7" fill="#089981"/>
<rect x="809" y="339.2" width="1" height="28.4" fill="#f23645"/>
<rect x="808" y="339.2" width="3" height="22.7" fill="#f23645"/>
<rect x="813" y="334.9" width="1" height="34.8" fill="#089981"/>
<rect x="812" y="344.1" width="3" height="17.8" fill="#089981"/>
<rect x="817" y="342.0" width="1" height="24.8" fill="#f23645"/>
<rect x="816" y="343.8" width="3" height="23.0" fill="#f23645"/>
<rect x="822" y="361.2" width="1" height="26.6" fill="#f23645"/>
<rect x="821" y="366.1" width="3" height="21.7" fill="#f23645"/>
<rect x="826" y="378.3" width="1" height="17.7" fill="#f23645"/>
<rect x="825" y="387.5" width="3" height="3.5" fill="#f23645"/>
<rect x="830" y="375.1" width="1" height="24.5" fill="#089981"/>
<rect x="829" y="383.2" width="3" height="7.8" fill="#089981"/>
<rect x="835" y="366.2" width="1" height="35.5" fill="#f23645"/>
<rect x="834" y="383.2" width="3" height="18.5" fill="#f23645"/>
<rect x="839" y="397.4" width="1" height="22.7" fill="#f23645"/>
<rect x="838" y="401.0" width="3" height="12.0" fill="#f23645"/>
<rect x="843" y="393.2" width="1" height="19.8" fill="#089981"/>
<rect x="842" y="400.3" width="3" height="12.7" fill="#089981"/>
<rect x="848" y="374.0" width="1" height="41.2" fill="#089981"/>
<rect x="847" y="383.2" width="3" height="17.8" fill="#089981"/>
<rect x="852" y="376.1" width="1" height="13.5" fill="#089981"/>
<rect x="851" y="381.1" width="3" height="2.8" fill="#089981"/>
<rect x="856" y="353.4" width="1" height="33.4" fill="#089981"/>
<rect x="855" y="354.1" width="3" height="27.0" fill="#089981"/>
<rect x="861" y="349.9" width="1" height="15.6" fill="#f23645"/>
<rect x="860" y="354.1" width="3" height="3.6" fill="#f23645"/>
<rect x="865" y="346.0" width="1" height="18.1" fill="#089981"/>
<rect x="864" y="352.2" width="3" height="5.7" fill="#089981"/>
<rect x="869" y="335.2" width="1" height="27.3" fill="#f23645"/>
<rect x="868" y="352.2" width="3" height="10.3" fill="#f23645"/>
<rect x="874" y="334.0" width="1" height="28.5" fill="#089981"/>
<rect x="873" y="352.2" width="3" height="10.3" fill="#089981"/>
<rect x="878" y="351.3" width="1" height="11.2" fill="#f23645"/>
<rect x="877" y="351.7" width="3" height="7.0" fill="#f23645"/>
<rect x="882" y="353.3" width="1" height="18.5" fill="#f23645"/>
<rect x="881" y="358.4" width="3" height="6.1" fill="#f23645"/>
<rect x="887" y="351.0" width="1" height="23.9" fill="#089981"/>
<rect x="886" y="351.7" width="3" height="10.8" fill="#089981"/>
<rect x="891" y="350.2" width="1" height="17.7" fill="#f23645"/>
<rect x="890" y="353.3" width="3" height="5.4" fill="#f23645"/>
<rect x="895" y="358.9" width="1" height="25.8" fill="#f23645"/>
<rect x="894" y="359.4" width="3" height="25.3" fill="#f23645"/>
<rect x="900" y="380.2" width="1" height="33.3" fill="#f23645"/>
<rect x="899" y="381.1" width="3" height="31.5" fill="#f23645"/>
<rect x="904" y="389.2" width="1" height="29.7" fill="#089981"/>
<rect x="903" y="396.4" width="3" height="15.3" fill="#089981"/>
<rect x="908" y="378.4" width="1" height="42.3" fill="#089981"/>
<rect x="907" y="386.5" width="3" height="9.0" fill="#089981"/>
<rect x="913" y="366.6" width="1" height="25.3" fill="#089981"/>
<rect x="912" y="373.0" width="3" height="13.5" fill="#089981"/>
<rect x="917" y="330.6" width="1" height="45.1" fill="#089981"/>
<rect x="916" y="331.1" width="3" height="44.6" fill="#089981"/>
<rect x="921" y="316.1" width="1" height="18.1" fill="#089981"/>
<rect x="920" y="327.0" width="3" height="7.2" fill="#089981"/>
<rect x="926" y="326.1" width="1" height="22.5" fill="#f23645"/>
<rect x="925" y="328.8" width="3" height="16.2" fill="#f23645"/>
<rect x="930" y="340.5" width="1" height="19.8" fill="#f23645"/>
<rect x="929" y="345.0" width="3" height="4.5" fill="#f23645"/>
<rect x="934" y="323.4" width="1" height="25.2" fill="#089981"/>
<rect x="933" y="330.0" width="3" height="18.6" fill="#089981"/>
<rect x="939" y="299.9" width="1" height="32.5" fill="#089981"/>
<rect x="938" y="306.2" width="3" height="26.2" fill="#089981"/>
<rect x="943" y="297.2" width="1" height="54.1" fill="#f23645"/>
<rect x="942" y="307.1" width="3" height="41.5" fill="#f23645"/>
<rect x="947" y="345.0" width="1" height="28.0" fill="#f23645"/>
<rect x="946" y="348.1" width="3" height="12.2" fill="#f23645"/>
<rect x="952" y="361.2" width="1" height="14.5" fill="#f23645"/>
<rect x="951" y="362.1" width="3" height="7.2" fill="#f23645"/>
<rect x="956" y="366.6" width="1" height="24.4" fill="#f23645"/>
<rect x="955" y="367.5" width="3" height="23.5" fill="#f23645"/>
<rect x="960" y="385.0" width="1" height="14.5" fill="#f23645"/>
<rect x="959" y="389.2" width="3" height="7.8" fill="#f23645"/>
<rect x="965" y="377.5" width="1" height="27.6" fill="#f23645"/>
<rect x="964" y="385.0" width="3" height="8.4" fill="#f23645"/>
<rect x="969" y="390.9" width="1" height="31.8" fill="#f23645"/>
<rect x="968" y="395.9" width="3" height="21.8" fill="#f23645"/>
<rect x="973" y="404.3" width="1" height="24.3" fill="#f23645"/>
<rect x="972" y="416.8" width="3" height="7.6" fill="#f23645"/>
<rect x="978" y="401.8" width="1" height="30.9" fill="#089981"/>
<rect x="977" y="402.6" width="3" height="22.6" fill="#089981"/>
<rect x="982" y="404.3" width="1" height="23.4" fill="#f23645"/>
<rect x="981" y="405.1" width="3" height="21.8" fill="#f23645"/>
<rect x="986" y="411.8" width="1" height="31.0" fill="#f23645"/>
<rect x="985" y="423.9" width="3" height="18.9" fill="#f23645"/>
<rect x="991" y="433.6" width="1" height="43.5" fill="#f23645"/>
<rect x="990" y="441.9" width="3" height="26.0" fill="#f23645"/>
<rect x="995" y="464.5" width="1" height="10.9" fill="#f23645"/>
<rect x="994" y="467.9" width="3" height="5.0" fill="#f23645"/>
<rect x="999" y="463.7" width="1" height="17.6" fill="#f23645"/>
<rect x="998" y="471.7" width="3" height="5.4" fill="#f23645"/>
<rect x="1004" y="457.9" width="1" height="34.6" fill="#f23645"/>
<rect x="1003" y="476.4" width="3" height="14.8" fill="#f23645"/>
<rect x="1008" y="477.0" width="1" height="15.5" fill="#089981"/>
<rect x="1007" y="484.1" width="3" height="5.8" fill="#089981"/>
<rect x="1012" y="450.6" width="1" height="32.9" fill="#089981"/>
<rect x="1011" y="453.8" width="3" height="29.0" fill="#089981"/>
<rect x="1017" y="455.1" width="1" height="18.7" fill="#f23645"/>
<rect x="1016" y="455.7" width="3" height="16.8" fill="#f23645"/>
<rect x="1021" y="455.1" width="1" height="43.8" fill="#089981"/>
<rect x="1020" y="465.4" width="3" height="17.4" fill="#089981"/>
<rect x="1025" y="447.4" width="1" height="30.9" fill="#089981"/>
<rect x="1024" y="448.7" width="3" height="21.9" fill="#089981"/>
<rect x="1030" y="439.6" width="1" height="20.7" fill="#089981"/>
<rect x="1029" y="446.1" width="3" height="5.8" fill="#089981"/>
<rect x="1034" y="440.3" width="1" height="41.2" fill="#f23645"/>
<rect x="1033" y="446.1" width="3" height="34.1" fill="#f23645"/>
<rect x="1038" y="442.1" width="1" height="39.5" fill="#089981"/>
<rect x="1037" y="454.2" width="3" height="26.3" fill="#089981"/>
<rect x="1043" y="443.2" width="1" height="11.0" fill="#089981"/>
<rect x="1042" y="444.3" width="3" height="8.8" fill="#089981"/>
<rect x="1047" y="425.7" width="1" height="24.1" fill="#f23645"/>
<rect x="1046" y="444.3" width="3" height="4.4" fill="#f23645"/>
<rect x="1051" y="441.7" width="1" height="11.4" fill="#f23645"/>
<rect x="1050" y="446.5" width="3" height="6.6" fill="#f23645"/>
<rect x="1056" y="420.2" width="1" height="70.2" fill="#f23645"/>
<rect x="1055" y="452.0" width="3" height="29.6" fill="#f23645"/>
<rect x="1060" y="423.5" width="1" height="82.2" fill="#089981"/>
<rect x="1059" y="426.8" width="3" height="59.2" fill="#089981"/>
<rect x="1064" y="390.6" width="1" height="38.4" fill="#089981"/>
<rect x="1063" y="401.5" width="3" height="26.4" fill="#089981"/>
<rect x="1068" y="378.5" width="1" height="23.0" fill="#089981"/>
<rect x="1067" y="393.9" width="3" height="7.6" fill="#089981"/>
<rect x="1073" y="389.5" width="1" height="20.8" fill="#f23645"/>
<rect x="1072" y="396.0" width="3" height="3.3" fill="#f23645"/>
<rect x="1077" y="380.7" width="1" height="35.1" fill="#f23645"/>
<rect x="1076" y="398.2" width="3" height="8.8" fill="#f23645"/>
<rect x="1081" y="393.0" width="1" height="29.0" fill="#f23645"/>
<rect x="1080" y="404.0" width="3" height="9.9" fill="#f23645"/>
<rect x="1086" y="387.7" width="1" height="27.3" fill="#089981"/>
<rect x="1085" y="388.9" width="3" height="25.0" fill="#089981"/>
<rect x="1090" y="377.9" width="1" height="24.9" fill="#f23645"/>
<rect x="1089" y="389.2" width="3" height="5.5" fill="#f23645"/>
<rect x="1094" y="366.8" width="1" height="27.9" fill="#089981"/>
<rect x="1093" y="382.3" width="3" height="12.4" fill="#089981"/>
<rect x="1099" y="368.6" width="1" height="18.5" fill="#089981"/>
<rect x="1098" y="378.4" width="3" height="4.1" fill="#089981"/>
<rect x="1103" y="365.1" width="1" height="29.4" fill="#f23645"/>
<rect x="1102" y="383.2" width="3" height="10.6" fill="#f23645"/>
<rect x="1107" y="367.1" width="1" height="45.6" fill="#089981"/>
<rect x="1106" y="372.2" width="3" height="24.2" fill="#089981"/>
<rect x="1112" y="357.1" width="1" height="21.3" fill="#089981"/>
<rect x="1111" y="372.2" width="3" height="1.6" fill="#089981"/>
<rect x="1116" y="370.9" width="1" height="20.0" fill="#f23645"/>
<rect x="1115" y="370.9" width="3" height="13.9" fill="#f23645"/>
<rect x="1120" y="382.0" width="1" height="25.6" fill="#f23645"/>
<rect x="1119" y="383.8" width="3" height="11.6" fill="#f23645"/>
<rect x="1125" y="372.2" width="1" height="27.3" fill="#089981"/>
<rect x="1124" y="382.0" width="3" height="11.1" fill="#089981"/>
<rect x="1129" y="380.3" width="1" height="38.3" fill="#f23645"/>
<rect x="1128" y="382.0" width="3" height="23.3" fill="#f23645"/>
<rect x="1133" y="392.3" width="1" height="20.5" fill="#089981"/>
<rect x="1132" y="397.1" width="3" height="10.5" fill="#089981"/>
<rect x="1138" y="387.3" width="1" height="19.1" fill="#f23645"/>
<rect x="1137" y="395.4" width="3" height="9.9" fill="#f23645"/>
<rect x="1142" y="399.5" width="1" height="33.1" fill="#f23645"/>
<rect x="1141" y="404.1" width="3" height="13.4" fill="#f23645"/>
<rect x="1146" y="408.2" width="1" height="19.7" fill="#089981"/>
<rect x="1145" y="409.9" width="3" height="7.0" fill="#089981"/>
<rect x="1151" y="405.3" width="1" height="19.1" fill="#089981"/>
<rect x="1150" y="411.1" width="3" height="1.0" fill="#089981"/>
<rect x="1155" y="389.9" width="1" height="22.7" fill="#089981"/>
<rect x="1154" y="396.3" width="3" height="15.7" fill="#089981"/>
<rect x="1159" y="384.3" width="1" height="35.4" fill="#f23645"/>
<rect x="1158" y="397.0" width="3" height="22.7" fill="#f23645"/>
<rect x="1164" y="416.2" width="1" height="26.3" fill="#f23645"/>
<rect x="1163" y="416.9" width="3" height="22.0" fill="#f23645"/>
<rect x="1168" y="421.9" width="1" height="17.0" fill="#089981"/>
<rect x="1167" y="425.1" width="3" height="13.8" fill="#089981"/>
<rect x="1172" y="421.9" width="1" height="29.8" fill="#f23645"/>
<rect x="1171" y="429.0" width="3" height="22.7" fill="#f23645"/>
<rect x="1177" y="443.2" width="1" height="16.3" fill="#f23645"/>
<rect x="1176" y="446.0" width="3" height="4.3" fill="#f23645"/>
<rect x="1181" y="436.8" width="1" height="17.0" fill="#089981"/>
<rect x="1180" y="445.3" width="3" height="5.0" fill="#089981"/>
<rect x="1185" y="432.5" width="1" height="19.9" fill="#f23645"/>
<rect x="1184" y="438.2" width="3" height="12.1" fill="#f23645"/>
<rect x="1190" y="449.6" width="1" height="28.3" fill="#f23645"/>
<rect x="1189" y="451.0" width="3" height="24.0" fill="#f23645"/>
<rect x="1194" y="457.9" width="1" height="17.0" fill="#089981"/>
<rect x="1193" y="460.5" width="3" height="13.9" fill="#089981"/>
<rect x="1198" y="459.2" width="1" height="24.4" fill="#f23645"/>
<rect x="1197" y="460.5" width="3" height="16.4" fill="#f23645"/>
<rect x="1203" y="446.0" width="1" height="35.1" fill="#089981"/>
<rect x="1202" y="448.1" width="3" height="29.9" fill="#089981"/>
<rect x="1207" y="436.3" width="1" height="16.4" fill="#089981"/>
<rect x="1206" y="437.8" width="3" height="13.4" fill="#089981"/>
<rect x="1211" y="424.9" width="1" height="17.0" fill="#089981"/>
<rect x="1210" y="431.6" width="3" height="7.2" fill="#089981"/>
<rect x="1216" y="430.1" width="1" height="17.5" fill="#f23645"/>
<rect x="1215" y="431.6" width="3" height="11.9" fill="#f23645"/>
<rect x="1220" y="419.8" width="1" height="24.7" fill="#089981"/>
<rect x="1219" y="425.2" width="3" height="18.8" fill="#089981"/>
<rect x="1224" y="424.9" width="1" height="19.1" fill="#f23645"/>
<rect x="1223" y="425.4" width="3" height="15.5" fill="#f23645"/>
<rect x="1229" y="430.1" width="1" height="22.6" fill="#f23645"/>
<rect x="1228" y="440.9" width="3" height="8.7" fill="#f23645"/>
<rect x="1233" y="437.0" width="1" height="13.7" fill="#089981"/>
<rect x="1232" y="444.0" width="3" height="6.7" fill="#089981"/>
<rect x="1237" y="397.7" width="1" height="49.4" fill="#089981"/>
<rect x="1236" y="398.2" width="3" height="48.4" fill="#089981"/>
<rect x="1242" y="374.0" width="1" height="24.9" fill="#089981"/>
<rect x="1241" y="379.0" width="3" height="19.9" fill="#089981"/>
</svg>
<svg width="1410" height="100" style="position:absolute;left:0;top:613px">
<line x1="0" x2="1410" y1="10.5" y2="10.5" stroke="#f0f2f5"/>
<line x1="0" x2="1410" y1="60.5" y2="60.5" stroke="#f0f2f5"/>
<line y1="0" y2="100" x1="99.5" x2="99.5" stroke="#f0f2f5" stroke-width="1"/>
<line y1="0" y2="100" x1="212.5" x2="212.5" stroke="#f0f2f5" stroke-width="1"/>
<line y1="0" y2="100" x1="324.5" x2="324.5" stroke="#f0f2f5" stroke-width="1"/>
<line y1="0" y2="100" x1="437.5" x2="437.5" stroke="#f0f2f5" stroke-width="1"/>
<line y1="0" y2="100" x1="549.5" x2="549.5" stroke="#f0f2f5" stroke-width="1"/>
<line y1="0" y2="100" x1="662.5" x2="662.5" stroke="#f0f2f5" stroke-width="1"/>
<line y1="0" y2="100" x1="774.5" x2="774.5" stroke="#f0f2f5" stroke-width="1"/>
<line y1="0" y2="100" x1="887.5" x2="887.5" stroke="#f0f2f5" stroke-width="1"/>
<line y1="0" y2="100" x1="1004.5" x2="1004.5" stroke="#f0f2f5" stroke-width="1"/>
<line y1="0" y2="100" x1="1116.5" x2="1116.5" stroke="#f0f2f5" stroke-width="1"/>
<line y1="0" y2="100" x1="1229.5" x2="1229.5" stroke="#f0f2f5" stroke-width="1"/>
<line y1="0" y2="100" x1="1341.5" x2="1341.5" stroke="#f0f2f5" stroke-width="1"/>
<rect x="-2" y="0.0" width="3" height="60.3" fill="#009688"/>
<rect x="3" y="0.0" width="3" height="60.3" fill="#009688"/>
<rect x="7" y="0.0" width="3" height="60.3" fill="#009688"/>
<rect x="11" y="0.0" width="3" height="60.3" fill="#009688"/>
<rect x="16" y="0.0" width="3" height="60.3" fill="#009688"/>
<rect x="20" y="0.0" width="3" height="60.3" fill="#009688"/>
<rect x="24" y="0.0" width="3" height="60.3" fill="#009688"/>
<rect x="29" y="0.0" width="3" height="60.3" fill="#009688"/>
<rect x="33" y="0.0" width="3" height="60.3" fill="#009688"/>
<rect x="37" y="0.0" width="3" height="60.3" fill="#f44336"/>
<rect x="42" y="0.0" width="3" height="60.3" fill="#f44336"/>
<rect x="46" y="0.0" width="3" height="60.3" fill="#f44336"/>
<rect x="50" y="0.0" width="3" height="60.3" fill="#f44336"/>
<rect x="55" y="0.0" width="3" height="60.3" fill="#f44336"/>
<rect x="59" y="0.0" width="3" height="60.3" fill="#009688"/>
<rect x="63" y="0.0" width="3" height="60.3" fill="#009688"/>
<rect x="68" y="0.0" width="3" height="60.3" fill="#009688"/>
<rect x="72" y="0.0" width="3" height="60.3" fill="#009688"/>
<rect x="76" y="0.0" width="3" height="60.3" fill="#009688"/>
<rect x="81" y="0.0" width="3" height="60.3" fill="#009688"/>
<rect x="85" y="0.0" width="3" height="60.3" fill="#009688"/>
<rect x="89" y="0.0" width="3" height="60.3" fill="#009688"/>
<rect x="94" y="0.0" width="3" height="60.3" fill="#009688"/>
<rect x="98" y="0.0" width="3" height="60.3" fill="#009688"/>
<rect x="102" y="0.0" width="3" height="60.3" fill="#f44336"/>
<rect x="107" y="0.0" width="3" height="60.3" fill="#f44336"/>
<rect x="111" y="0.0" width="3" height="60.3" fill="#f44336"/>
<rect x="115" y="0.0" width="3" height="60.3" fill="#f44336"/>
<rect x="120" y="0.0" width="3" height="60.3" fill="#f44336"/>
<rect x="124" y="0.0" width="3" height="60.3" fill="#f44336"/>
<rect x="128" y="0.0" width="3" height="60.3" fill="#009688"/>
<rect x="133" y="0.0" width="3" height="60.3" fill="#f44336"/>
<rect x="137" y="0.0" width="3" height="60.3" fill="#f44336"/>
<rect x="141" y="0.0" width="3" height="60.3" fill="#f44336"/>
<rect x="146" y="0.0" width="3" height="60.3" fill="#f44336"/>
<rect x="150" y="13.0" width="3" height="47.3" fill="#f44336"/>
<rect x="154" y="24.8" width="3" height="35.5" fill="#f44336"/>
<rect x="159" y="32.5" width="3" height="27.8" fill="#f44336"/>
<rect x="163" y="37.9" width="3" height="22.4" fill="#f44336"/>
<rect x="167" y="33.9" width="3" height="26.4" fill="#009688"/>
<rect x="172" y="27.3" width="3" height="33.0" fill="#009688"/>
<rect x="176" y="22.3" width="3" height="38.0" fill="#009688"/>
<rect x="180" y="20.7" width="3" height="39.6" fill="#009688"/>
<rect x="185" y="23.1" width="3" height="37.2" fill="#f44336"/>
<rect x="189" y="26.2" width="3" height="34.1" fill="#f44336"/>
<rect x="193" y="31.6" width="3" height="28.7" fill="#f44336"/>
<rect x="198" y="42.7" width="3" height="17.6" fill="#f44336"/>
<rect x="202" y="55.2" width="3" height="5.1" fill="#f44336"/>
<rect x="206" y="60.3" width="3" height="7.3" fill="#f44336"/>
<rect x="211" y="60.3" width="3" height="20.0" fill="#f44336"/>
<rect x="215" y="60.3" width="3" height="30.5" fill="#f44336"/>
<rect x="219" y="60.3" width="3" height="35.2" fill="#f44336"/>
<rect x="224" y="60.3" width="3" height="36.8" fill="#f44336"/>
<rect x="228" y="60.3" width="3" height="36.2" fill="#009688"/>
<rect x="232" y="60.3" width="3" height="35.5" fill="#009688"/>
<rect x="237" y="60.3" width="3" height="37.2" fill="#f44336"/>
<rect x="241" y="60.3" width="3" height="36.6" fill="#009688"/>
<rect x="245" y="60.3" width="3" height="29.6" fill="#009688"/>
<rect x="249" y="60.3" width="3" height="24.2" fill="#009688"/>
<rect x="254" y="60.3" width="3" height="20.0" fill="#009688"/>
<rect x="258" y="60.3" width="3" height="13.3" fill="#009688"/>
<rect x="262" y="60.3" width="3" height="10.1" fill="#009688"/>
<rect x="267" y="60.3" width="3" height="15.4" fill="#f44336"/>
<rect x="271" y="60.3" width="3" height="20.0" fill="#f44336"/>
<rect x="275" y="60.3" width="3" height="16.6" fill="#009688"/>
<rect x="280" y="60.3" width="3" height="9.6" fill="#009688"/>
<rect x="284" y="60.3" width="3" height="0.5" fill="#009688"/>
<rect x="288" y="51.9" width="3" height="8.4" fill="#009688"/>
<rect x="293" y="49.9" width="3" height="10.4" fill="#009688"/>
<rect x="297" y="60.3" width="3" height="0.5" fill="#f44336"/>
<rect x="301" y="60.3" width="3" height="16.7" fill="#f44336"/>
<rect x="306" y="60.3" width="3" height="32.1" fill="#f44336"/>
<rect x="310" y="60.3" width="3" height="39.7" fill="#f44336"/>
<rect x="314" y="60.3" width="3" height="39.7" fill="#f44336"/>
<rect x="319" y="60.3" width="3" height="39.7" fill="#f44336"/>
<rect x="323" y="60.3" width="3" height="39.7" fill="#009688"/>
<rect x="327" y="60.3" width="3" height="39.7" fill="#009688"/>
<rect x="332" y="60.3" width="3" height="39.7" fill="#009688"/>
<rect x="336" y="60.3" width="3" height="39.7" fill="#f44336"/>
<rect x="340" y="60.3" width="3" height="39.7" fill="#f44336"/>
<rect x="345" y="60.3" width="3" height="39.7" fill="#f44336"/>
<rect x="349" y="60.3" width="3" height="39.7" fill="#f44336"/>
<rect x="353" y="60.3" width="3" height="39.7" fill="#f44336"/>
<rect x="358" y="60.3" width="3" height="39.7" fill="#009688"/>
<rect x="362" y="60.3" width="3" height="39.7" fill="#009688"/>
<rect x="366" y="60.3" width="3" height="32.6" fill="#009688"/>
<rect x="371" y="60.3" width="3" height="19.2" fill="#009688"/>
<rect x="375" y="60.3" width="3" height="7.9" fill="#009688"/>
<rect x="379" y="59.9" width="3" height="0.5" fill="#009688"/>
<rect x="384" y="60.3" width="3" height="0.5" fill="#f44336"/>
<rect x="388" y="60.3" width="3" height="4.0" fill="#f44336"/>
<rect x="392" y="60.3" width="3" height="18.8" fill="#f44336"/>
<rect x="397" y="60.3" width="3" height="36.5" fill="#f44336"/>
<rect x="401" y="60.3" width="3" height="39.7" fill="#f44336"/>
<rect x="405" y="60.3" width="3" height="39.7" fill="#f44336"/>
<rect x="410" y="60.3" width="3" height="39.7" fill="#f44336"/>
<rect x="414" y="60.3" width="3" height="39.7" fill="#009688"/>
<rect x="418" y="60.3" width="3" height="39.7" fill="#009688"/>
<rect x="423" y="60.3" width="3" height="39.7" fill="#009688"/>
<rect x="427" y="60.3" width="3" height="39.7" fill="#009688"/>
<rect x="431" y="60.3" width="3" height="39.7" fill="#f44336"/>
<rect x="436" y="60.3" width="3" height="39.7" fill="#f44336"/>
<rect x="440" y="60.3" width="3" height="39.7" fill="#f44336"/>
<rect x="444" y="60.3" width="3" height="39.7" fill="#009688"/>
<rect x="449" y="60.3" width="3" height="39.7" fill="#009688"/>
<rect x="453" y="60.3" width="3" height="39.7" fill="#009688"/>
<rect x="457" y="60.3" width="3" height="39.7" fill="#009688"/>
<rect x="462" y="60.3" width="3" height="39.7" fill="#009688"/>
<rect x="466" y="60.3" width="3" height="39.7" fill="#009688"/>
<rect x="470" y="60.3" width="3" height="39.7" fill="#f44336"/>
<rect x="475" y="60.3" width="3" height="39.7" fill="#f44336"/>
<rect x="479" y="60.3" width="3" height="39.7" fill="#f44336"/>
<rect x="483" y="60.3" width="3" height="39.7" fill="#f44336"/>
<rect x="488" y="60.3" width="3" height="39.7" fill="#f44336"/>
<rect x="492" y="60.3" width="3" height="39.7" fill="#f44336"/>
<rect x="496" y="60.3" width="3" height="39.7" fill="#f44336"/>
<rect x="501" y="60.3" width="3" height="39.7" fill="#f44336"/>
<rect x="505" y="60.3" width="3" height="39.7" fill="#009688"/>
<rect x="509" y="60.3" width="3" height="39.7" fill="#009688"/>
<rect x="514" y="60.3" width="3" height="39.7" fill="#009688"/>
<rect x="518" y="60.3" width="3" height="39.7" fill="#009688"/>
<rect x="522" y="60.3" width="3" height="39.7" fill="#009688"/>
<rect x="526" y="60.3" width="3" height="24.5" fill="#009688"/>
<rect x="531" y="55.3" width="3" height="5.0" fill="#009688"/>
<rect x="535" y="31.8" width="3" height="28.5" fill="#009688"/>
<rect x="539" y="21.1" width="3" height="39.2" fill="#009688"/>
<rect x="544" y="13.6" width="3" height="46.7" fill="#009688"/>
<rect x="548" y="13.8" width="3" height="46.5" fill="#f44336"/>
<rect x="552" y="14.4" width="3" height="45.9" fill="#f44336"/>
<rect x="557" y="12.7" width="3" height="47.6" fill="#009688"/>
<rect x="561" y="4.3" width="3" height="56.0" fill="#009688"/>
<rect x="565" y="0.0" width="3" height="60.3" fill="#009688"/>
<rect x="570" y="0.0" width="3" height="60.3" fill="#009688"/>
<rect x="574" y="0.0" width="3" height="60.3" fill="#f44336"/>
<rect x="578" y="11.1" width="3" height="49.2" fill="#f44336"/>
<rect x="583" y="25.0" width="3" height="35.3" fill="#f44336"/>
<rect x="587" y="38.8" width="3" height="21.5" fill="#f44336"/>
<rect x="591" y="45.0" width="3" height="15.3" fill="#f44336"/>
<rect x="596" y="48.0" width="3" height="12.3" fill="#f44336"/>
<rect x="600" y="46.1" width="3" height="14.2" fill="#009688"/>
<rect x="604" y="41.2" width="3" height="19.1" fill="#009688"/>
<rect x="609" y="36.1" width="3" height="24.2" fill="#009688"/>
<rect x="613" y="37.3" width="3" height="23.0" fill="#f44336"/>
<rect x="617" y="41.6" width="3" height="18.7" fill="#f44336"/>
<rect x="622" y="43.0" width="3" height="17.3" fill="#f44336"/>
<rect x="626" y="45.2" width="3" height="15.1" fill="#f44336"/>
<rect x="630" y="48.2" width="3" height="12.1" fill="#f44336"/>
<rect x="635" y="52.4" width="3" height="7.9" fill="#f44336"/>
<rect x="639" y="60.0" width="3" height="0.5" fill="#f44336"/>
<rect x="643" y="60.3" width="3" height="10.7" fill="#f44336"/>
<rect x="648" y="60.3" width="3" height="19.8" fill="#f44336"/>
<rect x="652" y="60.3" width="3" height="26.1" fill="#f44336"/>
<rect x="656" y="60.3" width="3" height="30.2" fill="#f44336"/>
<rect x="661" y="60.3" width="3" height="25.2" fill="#009688"/>
<rect x="665" y="60.3" width="3" height="16.4" fill="#009688"/>
<rect x="669" y="60.3" width="3" height="12.5" fill="#009688"/>
<rect x="674" y="60.3" width="3" height="10.9" fill="#009688"/>
<rect x="678" y="60.3" width="3" height="8.3" fill="#009688"/>
<rect x="682" y="60.3" width="3" height="11.9" fill="#f44336"/>
<rect x="687" y="60.3" width="3" height="25.9" fill="#f44336"/>
<rect x="691" y="60.3" width="3" height="39.5" fill="#f44336"/>
<rect x="695" y="60.3" width="3" height="39.7" fill="#f44336"/>
<rect x="700" y="60.3" width="3" height="39.7" fill="#f44336"/>
<rect x="704" y="60.3" width="3" height="39.7" fill="#f44336"/>
<rect x="708" y="60.3" width="3" height="39.7" fill="#009688"/>
<rect x="713" y="60.3" width="3" height="39.7" fill="#009688"/>
<rect x="717" y="60.3" width="3" height="39.7" fill="#009688"/>
<rect x="721" y="60.3" width="3" height="39.7" fill="#009688"/>
<rect x="726" y="60.3" width="3" height="39.7" fill="#009688"/>
<rect x="730" y="60.3" width="3" height="39.7" fill="#f44336"/>
<rect x="734" y="60.3" width="3" height="39.7" fill="#f44336"/>
<rect x="739" y="60.3" width="3" height="39.7" fill="#009688"/>
<rect x="743" y="60.3" width="3" height="39.7" fill="#009688"/>
<rect x="747" y="60.3" width="3" height="35.3" fill="#009688"/>
<rect x="752" y="60.3" width="3" height="18.7" fill="#009688"/>
<rect x="756" y="60.3" width="3" height="4.8" fill="#009688"/>
<rect x="760" y="53.9" width="3" height="6.4" fill="#009688"/>
<rect x="765" y="39.8" width="3" height="20.5" fill="#009688"/>
<rect x="769" y="26.1" width="3" height="34.2" fill="#009688"/>
<rect x="773" y="20.2" width="3" height="40.1" fill="#009688"/>
<rect x="778" y="16.6" width="3" height="43.7" fill="#009688"/>
<rect x="782" y="16.7" width="3" height="43.6" fill="#f44336"/>
<rect x="786" y="24.7" width="3" height="35.6" fill="#f44336"/>
<rect x="790" y="35.5" width="3" height="24.8" fill="#f44336"/>
<rect x="795" y="42.5" width="3" height="17.8" fill="#f44336"/>
<rect x="799" y="48.0" width="3" height="12.3" fill="#f44336"/>
<rect x="803" y="48.2" width="3" height="12.1" fill="#f44336"/>
<rect x="808" y="46.4" width="3" height="13.9" fill="#009688"/>
<rect x="812" y="44.1" width="3" height="16.2" fill="#009688"/>
<rect x="816" y="41.5" width="3" height="18.8" fill="#009688"/>
<rect x="821" y="43.7" width="3" height="16.6" fill="#f44336"/>
<rect x="825" y="51.3" width="3" height="9.0" fill="#f44336"/>
<rect x="829" y="58.1" width="3" height="2.2" fill="#f44336"/>
<rect x="834" y="60.3" width="3" height="4.9" fill="#f44336"/>
<rect x="838" y="60.3" width="3" height="16.1" fill="#f44336"/>
<rect x="842" y="60.3" width="3" height="21.9" fill="#f44336"/>
<rect x="847" y="60.3" width="3" height="23.9" fill="#f44336"/>
<rect x="851" y="60.3" width="3" height="23.7" fill="#009688"/>
<rect x="855" y="60.3" width="3" height="21.6" fill="#009688"/>
<rect x="860" y="60.3" width="3" height="11.9" fill="#009688"/>
<rect x="864" y="60.3" width="3" height="3.2" fill="#009688"/>
<rect x="868" y="55.2" width="3" height="5.1" fill="#009688"/>
<rect x="873" y="49.9" width="3" height="10.4" fill="#009688"/>
<rect x="877" y="49.3" width="3" height="11.0" fill="#009688"/>
<rect x="881" y="51.8" width="3" height="8.5" fill="#f44336"/>
<rect x="886" y="54.6" width="3" height="5.7" fill="#f44336"/>
<rect x="890" y="57.9" width="3" height="2.4" fill="#f44336"/>
<rect x="894" y="60.3" width="3" height="2.7" fill="#f44336"/>
<rect x="899" y="60.3" width="3" height="9.8" fill="#f44336"/>
<rect x="903" y="60.3" width="3" height="16.7" fill="#f44336"/>
<rect x="907" y="60.3" width="3" height="22.8" fill="#f44336"/>
<rect x="912" y="60.3" width="3" height="25.4" fill="#f44336"/>
<rect x="916" y="60.3" width="3" height="20.1" fill="#009688"/>
<rect x="920" y="60.3" width="3" height="4.9" fill="#009688"/>
<rect x="925" y="51.0" width="3" height="9.3" fill="#009688"/>
<rect x="929" y="40.5" width="3" height="19.8" fill="#009688"/>
<rect x="933" y="32.1" width="3" height="28.2" fill="#009688"/>
<rect x="938" y="25.6" width="3" height="34.7" fill="#009688"/>
<rect x="942" y="26.6" width="3" height="33.7" fill="#f44336"/>
<rect x="946" y="31.2" width="3" height="29.1" fill="#f44336"/>
<rect x="951" y="34.3" width="3" height="26.0" fill="#f44336"/>
<rect x="955" y="42.5" width="3" height="17.8" fill="#f44336"/>
<rect x="959" y="57.3" width="3" height="3.0" fill="#f44336"/>
<rect x="964" y="60.3" width="3" height="10.0" fill="#f44336"/>
<rect x="968" y="60.3" width="3" height="19.1" fill="#f44336"/>
<rect x="972" y="60.3" width="3" height="28.3" fill="#f44336"/>
<rect x="977" y="60.3" width="3" height="35.5" fill="#f44336"/>
<rect x="981" y="60.3" width="3" height="39.5" fill="#f44336"/>
<rect x="985" y="60.3" width="3" height="39.7" fill="#f44336"/>
<rect x="990" y="60.3" width="3" height="39.7" fill="#f44336"/>
<rect x="994" y="60.3" width="3" height="39.7" fill="#f44336"/>
<rect x="998" y="60.3" width="3" height="39.7" fill="#f44336"/>
<rect x="1003" y="60.3" width="3" height="39.7" fill="#f44336"/>
<rect x="1007" y="60.3" width="3" height="39.7" fill="#f44336"/>
<rect x="1011" y="60.3" width="3" height="39.7" fill="#009688"/>
<rect x="1016" y="60.3" width="3" height="39.7" fill="#009688"/>
<rect x="1020" y="60.3" width="3" height="39.7" fill="#009688"/>
<rect x="1024" y="60.3" width="3" height="39.7" fill="#009688"/>
<rect x="1029" y="60.3" width="3" height="39.7" fill="#009688"/>
<rect x="1033" y="60.3" width="3" height="39.7" fill="#009688"/>
<rect x="1037" y="60.3" width="3" height="39.7" fill="#009688"/>
<rect x="1042" y="60.3" width="3" height="39.7" fill="#009688"/>
<rect x="1046" y="60.3" width="3" height="39.7" fill="#009688"/>
<rect x="1050" y="60.3" width="3" height="39.7" fill="#009688"/>
<rect x="1055" y="60.3" width="3" height="37.9" fill="#009688"/>
<rect x="1059" y="60.3" width="3" height="35.8" fill="#009688"/>
<rect x="1063" y="60.3" width="3" height="25.8" fill="#009688"/>
<rect x="1067" y="60.3" width="3" height="13.8" fill="#009688"/>
<rect x="1072" y="60.3" width="3" height="1.8" fill="#009688"/>
<rect x="1076" y="48.6" width="3" height="11.7" fill="#009688"/>
<rect x="1080" y="34.3" width="3" height="26.0" fill="#009688"/>
<rect x="1085" y="29.9" width="3" height="30.4" fill="#009688"/>
<rect x="1089" y="27.9" width="3" height="32.4" fill="#009688"/>
<rect x="1093" y="23.2" width="3" height="37.1" fill="#009688"/>
<rect x="1098" y="18.6" width="3" height="41.7" fill="#009688"/>
<rect x="1102" y="12.7" width="3" height="47.6" fill="#009688"/>
<rect x="1106" y="10.4" width="3" height="49.9" fill="#009688"/>
<rect x="1111" y="6.3" width="3" height="54.0" fill="#009688"/>
<rect x="1115" y="7.2" width="3" height="53.1" fill="#f44336"/>
<rect x="1119" y="11.4" width="3" height="48.9" fill="#f44336"/>
<rect x="1124" y="13.7" width="3" height="46.6" fill="#f44336"/>
<rect x="1128" y="16.2" width="3" height="44.1" fill="#f44336"/>
<rect x="1132" y="24.3" width="3" height="36.0" fill="#f44336"/>
<rect x="1137" y="29.5" width="3" height="30.8" fill="#f44336"/>
<rect x="1141" y="35.6" width="3" height="24.7" fill="#f44336"/>
<rect x="1145" y="44.1" width="3" height="16.2" fill="#f44336"/>
<rect x="1150" y="49.2" width="3" height="11.1" fill="#f44336"/>
<rect x="1154" y="51.6" width="3" height="8.7" fill="#f44336"/>
<rect x="1158" y="54.7" width="3" height="5.6" fill="#f44336"/>
<rect x="1163" y="58.6" width="3" height="1.7" fill="#f44336"/>
<rect x="1167" y="60.3" width="3" height="2.3" fill="#f44336"/>
<rect x="1171" y="60.3" width="3" height="7.8" fill="#f44336"/>
<rect x="1176" y="60.3" width="3" height="18.3" fill="#f44336"/>
<rect x="1180" y="60.3" width="3" height="27.9" fill="#f44336"/>
<rect x="1184" y="60.3" width="3" height="31.3" fill="#f44336"/>
<rect x="1189" y="60.3" width="3" height="37.8" fill="#f44336"/>
<rect x="1193" y="60.3" width="3" height="39.7" fill="#f44336"/>
<rect x="1197" y="60.3" width="3" height="39.7" fill="#f44336"/>
<rect x="1202" y="60.3" width="3" height="39.7" fill="#f44336"/>
<rect x="1206" y="60.3" width="3" height="39.7" fill="#f44336"/>
<rect x="1210" y="60.3" width="3" height="39.7" fill="#009688"/>
<rect x="1215" y="60.3" width="3" height="36.9" fill="#009688"/>
<rect x="1219" y="60.3" width="3" height="27.6" fill="#009688"/>
<rect x="1223" y="60.3" width="3" height="20.3" fill="#009688"/>
<rect x="1228" y="60.3" width="3" height="18.6" fill="#009688"/>
<rect x="1232" y="60.3" width="3" height="19.5" fill="#f44336"/>
<rect x="1236" y="60.3" width="3" height="15.0" fill="#009688"/>
<rect x="1241" y="60.3" width="3" height="5.2" fill="#009688"/>
</svg>
<!-- overlays -->
<div class="abs" style="left:3px;top:30px;width:179px;height:40px;background:rgba(255,255,255,0.72)"></div>
<div class="ovl" style="left:4px;top:70px;width:312px;height:24px"></div>
<div class="ovl" style="left:4px;top:617px;width:112px;height:24px"></div>

<!-- header -->
<svg class="abs" style="left:6px;top:4px" width="24" height="22" viewBox="0 0 24 22">
 <defs><clipPath id="us1"><circle cx="15.1" cy="8.6" r="5.9"/></clipPath><clipPath id="nz1"><circle cx="8.9" cy="14.8" r="6"/></clipPath></defs>
 <g clip-path="url(#us1)">
  <rect x="8" y="2" width="14" height="14" fill="#fff"/>
  <rect x="8" y="2.6" width="14" height="1.6" fill="#eb3b3b"/>
  <rect x="8" y="5.8" width="14" height="1.6" fill="#eb3b3b"/>
  <rect x="8" y="9" width="14" height="1.6" fill="#eb3b3b"/>
  <rect x="8" y="12.2" width="14" height="1.6" fill="#eb3b3b"/>
  <rect x="8" y="2" width="7.5" height="7" fill="#1e88e5"/>
 </g>
 <circle cx="8.9" cy="14.8" r="7" fill="#fff"/>
 <g clip-path="url(#nz1)">
  <rect x="2" y="8" width="14" height="14" fill="#1848a0"/>
  <rect x="2" y="8" width="7" height="6" fill="#fff"/>
  <rect x="4.6" y="8" width="1.6" height="6" fill="#e53935"/>
  <rect x="2" y="10.2" width="7" height="1.6" fill="#e53935"/>
  <circle cx="12" cy="13" r=".7" fill="#e53935"/><circle cx="13.5" cy="15.5" r=".7" fill="#e53935"/><circle cx="11" cy="16" r=".7" fill="#e53935"/><circle cx="12" cy="18.5" r=".7" fill="#e53935"/>
 </g>
</svg>
<div class="abs" style="left:31px;top:7px;font-size:15.5px;line-height:18px;color:#131722;white-space:nowrap">New Zealand Dollar / U.S. Dollar · 1W · OANDA</div>
<div class="abs" style="left:370px;top:7px;width:40px;height:18px;border-radius:9px;overflow:hidden">
 <div class="abs" style="left:0;top:0;width:20px;height:18px;background:#daf1ee"></div>
 <div class="abs" style="left:20px;top:0;width:20px;height:18px;background:#f4bcd3"></div>
 <div class="abs" style="left:7px;top:5px;width:8px;height:8px;border-radius:50%;background:#089981"></div>
 <svg class="abs" style="left:24px;top:4px" width="12" height="10" viewBox="0 0 12 10"><path d="M2 4 Q4 1.5 6 3.5 T10 2.5 M2 8 Q4 5.5 6 7.5 T10 6.5" fill="none" stroke="#e0195a" stroke-width="1.6" stroke-linecap="round"/></svg>
</div>
<div class="abs" style="left:418px;top:9px;font-size:13px;line-height:15px;white-space:nowrap;color:#089981"><span style="color:#131722">O</span>0.59492 <span style="color:#131722">H</span>0.60508 <span style="color:#131722">L</span>0.59450 <span style="color:#131722">C</span>0.60296 +0.00802 (+1.35%)</div>

<!-- buy/sell -->
<div class="abs" style="left:8px;top:32px;width:69px;height:34px;border:1px solid #f23645;border-radius:6px;background:#fff;color:#f23645;text-align:center">
 <div style="font-size:13px;line-height:14px;margin-top:2px">0.60289</div>
 <div style="font-size:11.5px;line-height:14px">SELL</div>
</div>
<div class="abs" style="left:85px;top:42px;font-size:12.5px;line-height:14px;color:#131722">1.5</div>
<div class="abs" style="left:110px;top:32px;width:68px;height:34px;border:1px solid #2962ff;border-radius:6px;background:#fff;color:#2962ff;text-align:center">
 <div style="font-size:13px;line-height:14px;margin-top:2px">0.60304</div>
 <div style="font-size:11.5px;line-height:14px">BUY</div>
</div>

<!-- alligator legend -->
<div class="abs" style="left:9px;top:75px;font-size:13px;line-height:15px;color:#131722;white-space:nowrap">Alligator 13 8 5 8 5 3</div>
<svg class="abs" style="left:137px;top:73px" width="18" height="18" viewBox="0 0 18 18">
 <circle cx="9" cy="9" r="9" fill="rgba(124,77,255,0.18)"/>
 <path d="M4.36 7.76 A4.8 4.8 0 0 1 13.64 7.76" fill="none" stroke="#651fff" stroke-width="1.5"/>
 <path d="M13.64 10.24 A4.8 4.8 0 0 1 4.36 10.24" fill="none" stroke="#651fff" stroke-width="1.5"/>
 <path d="M11.9 6.4 L16.3 6.4 L14.3 9.6 Z" fill="#651fff"/>
 <path d="M6.1 11.6 L1.7 11.6 L3.7 8.4 Z" fill="#651fff"/>
</svg>
<div class="abs" style="left:163px;top:75px;font-size:13px;line-height:15px;white-space:nowrap"><span style="color:#2962ff">0.58108</span>&nbsp;<span style="color:#e91e63">0.58059</span>&nbsp;<span style="color:#66bb6a">0.58215</span></div>
<div class="abs" style="left:8px;top:97px;width:29px;height:21px;border:1px solid #e0e3eb;border-radius:4px;background:#fff"></div>
<svg class="abs" style="left:16px;top:103px" width="12" height="8" viewBox="0 0 12 8"><path d="M2 6 L6 2.2 L10 6" fill="none" stroke="#131722" stroke-width="1.6"/></svg>

<!-- event icons -->
<svg class="abs" style="left:1229px;top:561px" width="28" height="50" viewBox="0 0 28 50">
 <circle cx="13.4" cy="13.2" r="11" fill="#fff"/>
 <circle cx="13.4" cy="13.2" r="9.7" fill="#fff" stroke="#8e24aa" stroke-width="1.4"/>
 <polyline points="16.8,9 10.2,14.3 16.6,13.6 10.6,18.6" fill="none" stroke="#8e24aa" stroke-width="1.9" stroke-linejoin="round" stroke-linecap="round"/>
 <circle cx="20.5" cy="6.4" r="4" fill="#fff"/><circle cx="20.5" cy="6.4" r="2.8" fill="#f23645"/>
 <circle cx="17.5" cy="38" r="10.2" fill="#fff" stroke="#f23645" stroke-width="1.4"/>
 <circle cx="12.7" cy="38" r="11" fill="#fff"/>
 <circle cx="12.7" cy="38" r="10" fill="#fff" stroke="#f23645" stroke-width="1.4"/>
 <clipPath id="usc"><circle cx="12.7" cy="38" r="7.8"/></clipPath>
 <g clip-path="url(#usc)">
  <rect x="4" y="29" width="18" height="18" fill="#fff"/>
  <rect x="4" y="30" width="18" height="2.2" fill="#ef5350"/>
  <rect x="4" y="35" width="18" height="2.2" fill="#ef5350"/>
  <rect x="4" y="43" width="18" height="2.4" fill="#ef5350"/>
  <rect x="4" y="29" width="9.6" height="10" fill="#1e88e5"/>
  <g fill="#fff"><circle cx="7" cy="32" r=".55"/><circle cx="9.4" cy="32" r=".55"/><circle cx="11.8" cy="32" r=".55"/><circle cx="7" cy="34.4" r=".55"/><circle cx="9.4" cy="34.4" r=".55"/><circle cx="11.8" cy="34.4" r=".55"/><circle cx="7" cy="36.8" r=".55"/><circle cx="9.4" cy="36.8" r=".55"/><circle cx="11.8" cy="36.8" r=".55"/></g>
 </g>
</svg>
<div class="abs" style="left:1359px;top:371px;width:51px;height:17px;background:#089981;border-radius:2px 0 0 2px;color:#fff;font-size:12px;font-weight:bold;line-height:17px;text-align:center;letter-spacing:-0.9px">NZDUSD</div>

<!-- AO legend -->
<div class="abs" style="left:9px;top:622px;font-size:12px;line-height:14px;color:#131722">AO</div>
<svg class="abs" style="left:34px;top:621px" width="16" height="16" viewBox="0 0 18 18">
 <circle cx="9" cy="9" r="9" fill="rgba(124,77,255,0.18)"/>
 <path d="M4.36 7.76 A4.8 4.8 0 0 1 13.64 7.76" fill="none" stroke="#651fff" stroke-width="1.5"/>
 <path d="M13.64 10.24 A4.8 4.8 0 0 1 4.36 10.24" fill="none" stroke="#651fff" stroke-width="1.5"/>
 <path d="M11.9 6.4 L16.3 6.4 L14.3 9.6 Z" fill="#651fff"/>
 <path d="M6.1 11.6 L1.7 11.6 L3.7 8.4 Z" fill="#651fff"/>
</svg>
<div class="abs" style="left:61px;top:622px;font-size:12px;line-height:14px;color:#089981">−0.00207</div>

<!-- TV logo -->
<svg class="abs" style="left:12px;top:684px" width="32" height="16" viewBox="0 0 32 16">
 <path d="M0 0 H12 V14.5 H5 V6 H0 Z" fill="#131722"/>
 <circle cx="17.8" cy="3" r="2.6" fill="#131722"/>
 <path d="M21.3 0 H29.8 L24.4 14.5 H17.3 Z" fill="#131722"/>
</svg>
<div class="abs" style="left:49px;top:680px;font-size:20.5px;line-height:24px;font-weight:bold;color:#131722;letter-spacing:0.1px">TradingView</div>

<!-- RSI legend -->
<div class="abs" style="left:9px;top:723px;font-size:12px;line-height:14px;color:#131722">RSI 14 close</div>
<div class="abs" style="left:85px;top:721px;width:40px;height:18px;border-radius:9px;overflow:hidden">
 <div class="abs" style="left:0;top:0;width:20px;height:18px;background:#fde3e6"></div>
 <div class="abs" style="left:20px;top:0;width:20px;height:18px;background:#e8e0ff"></div>
 <div class="abs" style="left:9px;top:4px;width:2px;height:7px;background:#f23645"></div>
 <div class="abs" style="left:9px;top:13px;width:2px;height:2px;background:#f23645"></div>
 <svg class="abs" style="left:21px;top:1px" width="16" height="16" viewBox="0 0 18 18">
  <path d="M4.36 7.76 A4.8 4.8 0 0 1 13.64 7.76" fill="none" stroke="#651fff" stroke-width="1.5"/>
 <path d="M13.64 10.24 A4.8 4.8 0 0 1 4.36 10.24" fill="none" stroke="#651fff" stroke-width="1.5"/>
 <path d="M11.9 6.4 L16.3 6.4 L14.3 9.6 Z" fill="#651fff"/>
 <path d="M6.1 11.6 L1.7 11.6 L3.7 8.4 Z" fill="#651fff"/>
 </svg>
</div>

<!-- price axis -->
<div class="abs" style="left:1411px;top:0;width:67px;height:747px;background:#fff"></div>
<div class="abs" style="left:1411px;top:613px;width:67px;height:100px;background:#fbfbfc"></div>
<div class="abs" style="left:1414px;top:4px;width:59px;height:26px;border:1px solid #e0e3eb;border-radius:5px;background:#fff"></div>
<div class="abs" style="left:1418px;top:10px;font-size:12px;line-height:14px;color:#131722">USD</div>
<svg class="abs" style="left:1463px;top:15px" width="7" height="5" viewBox="0 0 7 5"><path d="M1 1 L3.5 3.5 L6 1" fill="none" stroke="#131722" stroke-width="1.3"/></svg>
<div class="pl" style="top:50px">0.74000</div>
<div class="pl" style="top:97px">0.72000</div>
<div class="pl" style="top:144px">0.70000</div>
<div class="pl" style="top:191px">0.68000</div>
<div class="pl" style="top:238px">0.66000</div>
<div class="pl" style="top:285px">0.64000</div>
<div class="pl" style="top:426px">0.58000</div>
<div class="pl" style="top:473px">0.56000</div>
<div class="pl" style="top:520px">0.54000</div>
<div class="pl" style="top:567px">0.52000</div>
<div class="pl" style="top:616px">0.02000</div>
<div class="pl" style="top:666px">0.00000</div>
<div class="tag" style="top:58px;background:#673ab7">0.73636</div>
<div class="tag" style="top:333px;background:#2a2e39">0.61908</div>
<div class="tag" style="top:371px;height:31px;background:#089981;line-height:15px;padding-top:1px">0.60296<br><span style="font-weight:bold;color:#d6f0ec">2d 14h</span></div>
<div class="tag" style="top:402px;background:#2a2e39">0.59165</div>
<div class="tag" style="top:441px;background:#ff9800;color:#131722;font-weight:normal">0.57318</div>

<!-- time axis -->
<div class="abs" style="left:0;top:748px;width:1410px;height:27px;background:#fff"></div>
<div class="tl b" style="left:69.3px">2021</div>
<div class="tl" style="left:182.3px">Jul</div>
<div class="tl b" style="left:294.3px">2022</div>
<div class="tl" style="left:407.3px">Jul</div>
<div class="tl b" style="left:519.3px">2023</div>
<div class="tl" style="left:632.3px">Jul</div>
<div class="tl b" style="left:744.3px">2024</div>
<div class="tl" style="left:857.3px">Jul</div>
<div class="tl b" style="left:974.3px">2025</div>
<div class="tl" style="left:1086.3px">Jul</div>
<div class="tl b" style="left:1199.3px">2026</div>
<div class="tl" style="left:1311.3px">Jul</div>
<svg class="abs" style="left:1437px;top:754px" width="16" height="15" viewBox="0 0 16 15"><path d="M4.3 1 H11.7 L15.2 7.5 L11.7 14 H4.3 L0.8 7.5 Z" fill="none" stroke="#131722" stroke-width="1.2"/><circle cx="8" cy="7.5" r="2.1" fill="none" stroke="#131722" stroke-width="1.2"/></svg>

<!-- separators -->
<div class="abs" style="left:0;top:612px;width:1479px;height:1px;background:#e0e3eb"></div>
<div class="abs" style="left:0;top:713px;width:1479px;height:1px;background:#e0e3eb"></div>
<div class="abs" style="left:0;top:747px;width:1479px;height:1px;background:#e0e3eb"></div>
<div class="abs" style="left:1410px;top:0;width:1px;height:776px;background:#e0e3eb"></div>
<div class="abs" style="left:1478px;top:0;width:1px;height:776px;background:#e0e3eb"></div>
<div class="abs" style="left:0;top:775px;width:1479px;height:1px;background:#e0e3eb"></div>
</div></body></html>
